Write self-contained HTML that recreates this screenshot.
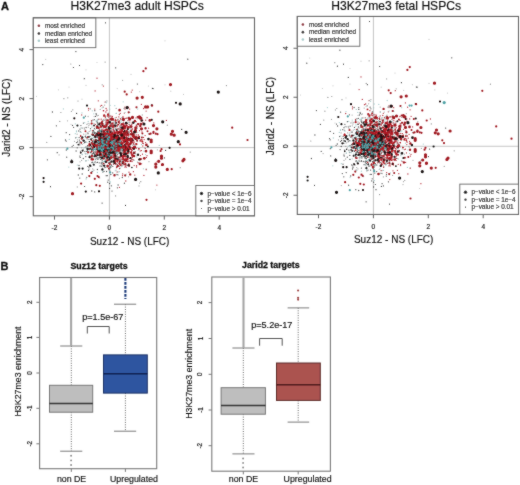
<!DOCTYPE html>
<html><head><meta charset="utf-8"><style>
html,body{margin:0;padding:0;background:#fff;}
svg{display:block;font-family:"Liberation Sans", sans-serif;}
</style></head><body>
<svg width="520" height="485" viewBox="0 0 520 485">
<defs><filter id="bl" x="0" y="0" width="520" height="485" filterUnits="userSpaceOnUse"><feConvolveMatrix order="3" kernelMatrix="1 2 1 2 24 2 1 2 1" edgeMode="duplicate"/></filter></defs>
<rect width="520" height="485" fill="#fff"/>
<g filter="url(#bl)">
<text x="1" y="10.3" font-size="11" text-anchor="start" font-weight="bold" fill="#111" stroke="#111" stroke-width="0.3">A</text>
<text x="0.6" y="270.2" font-size="11" text-anchor="start" font-weight="bold" fill="#111" stroke="#111" stroke-width="0.3">B</text>
<line x1="109.4" y1="17.8" x2="109.4" y2="215.8" stroke="#c4c4c4" stroke-width="1"/>
<line x1="33.3" y1="147.6" x2="254.5" y2="147.6" stroke="#c4c4c4" stroke-width="1"/>
</g><g filter="url(#bl)">
<path d="M114.5 131.7h0M144.2 139.6h0M127.1 144.6h0M118.7 157.2h0M122.4 126.5h0M145.4 148.3h0M114.7 131.3h0M143.3 143.5h0M102.8 147.3h0M132.3 156.1h0M111.0 155.2h0M105.8 144.9h0M120.7 132.2h0M108.0 142.8h0M120.5 153.0h0M110.4 122.7h0M119.4 144.8h0M95.1 90.9h0M112.4 150.5h0M106.3 136.5h0M123.8 143.0h0M118.1 145.1h0M99.8 137.7h0M119.4 187.3h0M141.5 124.0h0M116.5 129.1h0M123.2 128.4h0M118.4 136.6h0M122.9 151.2h0M107.4 158.7h0M124.2 145.0h0M81.7 114.9h0M98.3 100.8h0M132.2 129.0h0M108.3 141.4h0M94.8 109.1h0M139.6 158.8h0M131.5 126.9h0M107.7 165.3h0M117.8 137.5h0M101.2 119.2h0M133.4 171.7h0M140.8 139.8h0M128.6 161.2h0M108.8 137.3h0M129.3 166.4h0M125.6 132.0h0M116.5 135.8h0M123.5 152.2h0M120.5 142.5h0M134.2 138.4h0M110.5 153.6h0M106.9 110.2h0M131.3 142.9h0M103.2 149.8h0M108.1 138.9h0M113.8 124.4h0M134.8 175.1h0M113.2 143.7h0M119.1 146.6h0M106.5 147.7h0M122.8 131.1h0M117.3 149.6h0M116.0 151.2h0M124.5 130.2h0M116.9 144.9h0M136.3 148.2h0M129.1 164.9h0M113.1 139.0h0M130.2 125.7h0M136.2 143.8h0M126.6 138.9h0M119.2 120.6h0M132.4 157.5h0M115.2 149.3h0M98.0 144.1h0M116.7 125.3h0M130.2 161.0h0M126.6 145.1h0M113.5 152.6h0M121.1 127.3h0M111.5 149.8h0M122.7 117.5h0M115.5 122.9h0M110.4 139.0h0M131.9 143.1h0M106.6 144.3h0M127.3 142.9h0M124.2 135.9h0M121.7 138.9h0M104.6 153.3h0M129.0 172.2h0M138.5 135.0h0M123.9 118.6h0M114.9 147.5h0M126.5 136.9h0M112.7 142.1h0M113.5 129.1h0M124.3 113.1h0M111.8 151.2h0M120.9 131.0h0M133.0 140.6h0M95.5 156.6h0M110.7 161.3h0M114.0 148.9h0M132.5 159.7h0M126.1 137.3h0M120.2 157.2h0M110.2 134.7h0M134.0 152.0h0M115.4 133.9h0M130.3 149.3h0M125.5 166.2h0M142.6 143.2h0M118.8 140.4h0M128.7 143.0h0M120.2 139.1h0M106.0 133.2h0M129.6 158.3h0M125.9 135.5h0M120.6 147.0h0M111.6 149.5h0M110.7 132.4h0M121.1 138.9h0M111.5 137.5h0M117.4 138.3h0M119.3 137.2h0M140.2 150.9h0M116.8 135.1h0M141.9 140.0h0" stroke="#b5303c" stroke-width="1.3" stroke-linecap="round" fill="none"/>
<path d="M127.9 138.2h0M122.1 155.8h0M103.2 136.2h0M125.3 127.8h0M130.0 125.0h0M117.7 138.3h0M121.4 161.4h0M109.1 137.9h0M146.2 168.9h0M97.1 146.2h0M121.4 125.5h0M105.8 123.7h0M98.3 115.4h0M95.8 162.7h0M113.9 146.3h0M94.2 133.2h0M96.0 162.7h0M113.2 125.0h0M108.3 146.9h0M102.8 149.9h0M130.2 131.7h0M94.3 143.3h0M97.2 115.8h0M88.9 125.4h0M122.7 148.9h0M115.2 153.4h0M122.7 133.4h0M86.9 124.4h0M84.4 128.9h0M122.9 159.0h0M116.2 113.3h0M109.0 143.6h0M114.3 139.5h0M103.6 139.1h0M105.9 132.9h0M112.6 156.1h0M86.0 134.1h0M59.1 154.9h0M124.9 150.7h0M98.8 127.8h0M113.6 130.8h0M115.0 148.0h0M96.8 148.0h0M118.2 132.7h0M83.7 134.2h0M100.6 151.9h0M100.5 154.2h0M105.9 140.1h0M102.2 141.5h0M120.2 147.4h0M106.8 129.2h0M113.3 161.9h0M114.9 143.3h0M110.6 123.2h0M107.4 149.6h0M114.4 152.7h0M82.2 154.5h0M105.6 138.9h0M101.9 125.0h0M109.3 142.8h0M142.3 115.0h0M106.2 138.1h0M120.3 141.9h0M120.2 128.9h0M74.5 141.3h0M139.5 183.1h0M118.2 174.9h0M88.3 127.2h0M120.8 133.8h0M115.9 135.7h0M115.1 143.6h0M98.8 139.3h0M117.1 147.9h0M105.8 153.3h0M106.1 158.9h0M110.8 148.4h0M116.1 174.5h0M107.1 143.9h0M110.6 141.5h0M81.8 137.3h0M106.2 153.8h0M115.8 145.9h0M125.1 132.9h0M88.3 139.4h0M84.3 127.8h0M110.4 155.2h0M116.4 167.9h0M104.1 131.8h0M109.9 120.5h0M120.9 120.1h0M115.3 159.9h0M137.5 141.6h0M96.0 157.8h0M89.3 139.6h0" stroke="#a8a8a8" stroke-width="1.3" stroke-linecap="round" fill="none"/>
<path d="M113.2 144.5h0M114.8 105.7h0M118.6 119.1h0M111.2 141.3h0M113.2 151.8h0M126.4 145.4h0M96.0 133.2h0M110.1 136.5h0M116.3 146.6h0M80.3 132.2h0M110.6 166.7h0M105.0 159.0h0M116.8 155.4h0M77.7 125.9h0M101.0 147.6h0M110.2 105.3h0M117.5 141.9h0M102.0 143.6h0M106.8 146.5h0M100.6 150.4h0M108.2 153.4h0M109.9 133.9h0M76.8 137.4h0M124.4 148.6h0M100.7 156.5h0M101.5 127.9h0M114.3 142.2h0M121.2 153.7h0M113.4 128.1h0M91.9 127.6h0M103.5 145.2h0M98.1 142.3h0M114.7 121.9h0M81.4 142.8h0M81.3 138.4h0M118.3 145.9h0M109.1 146.3h0M109.7 109.2h0M110.4 182.0h0M113.6 146.4h0M129.9 124.1h0M116.5 152.4h0M81.1 132.4h0M112.1 144.9h0M107.9 134.7h0M92.3 110.8h0M75.3 123.9h0M110.0 164.1h0M93.4 131.6h0M130.0 136.4h0M98.5 146.8h0M118.3 150.1h0M100.4 143.8h0M81.1 136.7h0M101.3 140.1h0M136.2 124.5h0M85.5 135.6h0M100.3 137.0h0M123.4 164.0h0M93.6 162.9h0M131.9 159.0h0M111.1 153.0h0M137.3 128.5h0M107.0 149.3h0" stroke="#a9cfcf" stroke-width="1.3" stroke-linecap="round" fill="none"/>
<path d="M111.2 133.0h0M113.3 137.8h0M113.0 152.4h0M107.8 159.1h0M105.8 144.5h0M108.2 151.4h0M102.5 151.2h0M102.5 146.3h0M99.6 133.6h0M110.7 136.3h0M93.6 150.9h0M110.9 128.8h0M92.7 148.3h0M106.6 126.7h0M103.1 107.1h0M79.1 137.6h0M86.1 127.5h0M120.1 159.6h0M93.9 140.0h0M108.5 149.5h0M104.0 143.2h0M77.6 141.9h0M111.1 150.6h0M110.0 167.4h0M101.0 145.0h0M110.4 142.2h0M102.1 144.2h0M108.0 155.5h0M94.5 133.6h0M93.6 131.1h0M100.9 141.1h0M86.1 137.5h0M87.9 151.9h0M80.0 142.0h0M110.7 141.5h0M76.5 142.6h0M91.3 142.6h0M102.7 142.7h0M109.9 129.0h0M92.1 158.0h0M108.4 153.6h0M101.5 158.3h0M113.9 152.3h0M110.2 145.3h0M82.2 174.0h0M104.2 155.4h0M90.5 128.7h0M109.1 148.5h0M103.2 147.4h0M79.8 178.1h0M104.0 171.4h0M115.8 135.0h0M96.5 156.7h0M109.9 138.9h0M97.7 158.0h0M94.7 191.9h0M115.8 147.5h0M111.9 132.8h0M100.8 154.7h0M88.9 167.2h0M94.6 154.4h0M113.1 136.8h0M98.7 149.0h0M101.4 163.3h0M88.3 137.2h0M93.1 131.3h0M115.1 142.7h0M107.2 152.8h0M98.7 147.6h0M75.7 137.8h0M88.0 133.7h0M109.6 183.5h0" stroke="#555555" stroke-width="1.3" stroke-linecap="round" fill="none"/>
<path d="M113.9 130.4h0M121.0 151.3h0M112.1 122.4h0M109.8 117.2h0M97.1 137.3h0M125.3 164.8h0M100.6 146.2h0M118.3 143.6h0M93.9 170.2h0M126.4 151.4h0M120.9 159.4h0M116.0 170.2h0M95.9 151.9h0M120.6 140.6h0M110.2 162.5h0M102.7 141.1h0M120.8 150.5h0M94.1 116.6h0M99.7 151.2h0M122.7 150.3h0M116.4 132.4h0M107.5 153.8h0M109.9 115.6h0M81.7 147.8h0M113.0 147.1h0M105.5 122.8h0M110.2 146.1h0M122.1 146.1h0M81.1 127.8h0M101.3 129.7h0M91.5 140.0h0M105.8 142.1h0M106.2 142.2h0M99.6 177.9h0M128.2 133.8h0M113.9 144.6h0M104.6 105.1h0M119.2 136.2h0M130.5 145.8h0M114.4 137.7h0M116.5 135.8h0M95.0 129.4h0M102.5 123.2h0M119.0 149.0h0M117.6 131.4h0M123.3 145.6h0M117.8 157.3h0M110.6 126.8h0M137.0 155.3h0M88.5 133.2h0M120.8 148.6h0M104.3 143.2h0M109.8 133.0h0M114.9 133.7h0M112.7 145.1h0M105.2 115.9h0M113.6 149.6h0M105.9 157.2h0M120.9 161.0h0M128.6 176.8h0M123.8 161.0h0M111.3 151.0h0M95.5 140.0h0M123.7 147.9h0M108.2 135.5h0M116.3 131.6h0M88.1 123.5h0M116.2 108.4h0M92.7 168.9h0M99.0 129.8h0M114.9 135.3h0M107.0 134.1h0M111.6 140.3h0M121.0 145.4h0M124.8 126.4h0" stroke="#a8a8a8" stroke-width="1.3" stroke-linecap="round" fill="none"/>
<path d="M106.6 135.5h0M100.5 143.0h0M112.0 125.2h0M87.5 150.7h0M110.8 124.7h0M97.4 132.9h0M103.4 134.7h0M92.0 162.6h0M86.0 147.0h0M102.3 164.8h0M97.4 169.5h0M102.9 172.1h0M91.1 152.0h0M100.5 159.2h0M66.2 132.7h0M115.2 164.1h0M71.6 159.9h0M100.3 145.4h0M104.7 145.7h0M108.3 113.3h0M92.9 153.3h0M119.2 152.7h0M98.3 142.7h0M117.2 174.7h0M91.7 121.8h0M91.6 157.0h0M116.8 143.0h0M108.6 163.0h0M106.1 152.9h0M79.4 140.1h0M99.0 147.9h0M110.8 174.5h0M89.6 165.2h0M103.1 142.9h0M96.3 114.8h0M93.3 153.2h0M89.9 136.4h0M111.6 126.2h0M96.1 113.7h0M85.8 153.8h0M99.3 157.4h0M85.4 116.2h0M113.0 136.1h0M103.8 131.4h0M109.9 168.6h0M101.2 133.5h0M110.4 151.1h0M80.6 142.2h0M104.5 146.1h0M93.6 149.6h0M99.6 130.4h0M109.6 162.6h0M105.8 140.8h0M113.5 161.3h0M92.7 155.5h0M110.2 155.2h0M110.7 131.1h0M99.1 151.2h0M80.0 129.1h0M109.0 150.0h0M105.4 132.0h0M114.0 153.5h0M92.1 154.2h0M104.7 135.9h0M102.0 130.5h0M98.7 147.6h0M93.1 141.2h0M98.4 138.9h0M52.4 112.0h0M92.6 141.4h0M102.7 162.9h0M109.0 143.8h0M107.4 145.4h0" stroke="#555555" stroke-width="1.3" stroke-linecap="round" fill="none"/>
<path d="M122.6 151.0h0M104.4 139.2h0M115.7 148.6h0M95.5 149.8h0M97.3 120.0h0M88.2 121.5h0M122.1 117.7h0M148.4 133.7h0M108.3 143.0h0M136.5 132.7h0M115.4 143.4h0M93.8 148.8h0M121.1 121.0h0M110.6 137.7h0M104.7 146.1h0M93.2 138.0h0M126.5 131.8h0M96.5 121.5h0M115.1 157.7h0M88.2 160.1h0M113.3 151.7h0M105.6 135.6h0M106.3 148.9h0M117.9 135.4h0M117.0 148.7h0M127.8 123.4h0M103.4 135.4h0M109.8 135.4h0M124.8 132.6h0M136.3 138.8h0M134.6 136.9h0M102.1 124.9h0M145.5 154.6h0M123.6 151.5h0M120.9 144.7h0M125.8 153.2h0M134.4 132.1h0M82.5 154.5h0M126.2 155.7h0M118.1 162.2h0M92.4 135.0h0M99.0 139.7h0M119.5 171.7h0M116.3 146.6h0M86.3 148.5h0M103.6 161.7h0M109.1 155.2h0M95.9 120.9h0M84.7 122.7h0M98.3 146.9h0M112.9 150.7h0M113.0 157.0h0M115.0 118.0h0M103.9 124.2h0M121.8 166.6h0M131.1 138.7h0M111.3 149.7h0M122.3 147.1h0M82.0 112.9h0M117.2 141.6h0M112.4 143.1h0M120.6 147.2h0M117.2 145.2h0M100.9 156.3h0M134.1 135.5h0M120.4 168.2h0M126.8 149.1h0M121.1 132.0h0M96.0 159.7h0M114.4 126.8h0M95.8 135.9h0M111.2 120.7h0M89.6 155.4h0M93.5 137.5h0M104.9 140.5h0M97.6 119.3h0M105.2 167.3h0M137.7 109.0h0M130.6 129.2h0M108.8 130.5h0M121.4 117.7h0M127.8 135.0h0M120.7 122.5h0M105.6 148.7h0M85.2 153.4h0" stroke="#a9cfcf" stroke-width="1.3" stroke-linecap="round" fill="none"/>
<path d="M121.3 146.6h0M108.7 163.3h0M88.5 110.1h0M113.6 122.9h0M108.7 122.4h0M139.7 118.7h0M107.6 130.1h0M120.8 129.2h0M125.8 118.4h0M108.4 149.9h0M128.0 120.7h0M128.2 146.8h0M116.2 142.5h0M120.2 146.7h0M100.2 148.2h0M113.6 156.3h0M128.9 147.0h0M142.0 132.0h0M139.5 130.7h0M127.6 131.5h0M130.5 118.2h0M127.4 123.4h0M105.2 119.1h0M116.4 147.2h0M108.4 132.4h0M112.1 157.5h0M105.5 135.3h0M126.2 167.2h0M118.3 148.1h0M115.0 137.0h0M113.5 131.2h0M117.0 134.3h0M95.4 152.1h0M111.0 153.0h0M128.9 131.8h0M131.5 159.2h0M107.5 157.6h0M101.6 122.7h0M109.9 146.8h0M122.6 123.6h0M88.5 108.3h0M111.3 133.6h0M111.7 134.0h0M111.7 153.7h0M103.0 141.7h0M119.3 114.6h0M124.4 160.2h0M124.9 135.9h0M119.6 160.0h0M120.1 143.8h0M142.8 146.0h0M119.5 147.2h0M126.9 137.2h0M116.1 152.5h0M113.2 120.5h0M101.7 105.4h0M124.0 126.0h0M114.9 143.1h0M119.5 168.3h0M146.1 111.1h0M127.7 139.5h0M80.7 135.4h0M145.6 142.6h0M119.8 126.9h0M98.8 135.3h0M105.4 130.5h0M121.5 143.5h0M117.7 164.8h0M115.2 140.9h0M119.3 153.2h0M135.0 135.1h0M104.1 157.1h0M143.5 137.4h0M112.0 146.3h0M120.2 113.4h0M105.7 129.6h0M125.1 128.9h0M111.1 126.2h0M117.7 147.2h0M106.2 147.6h0M122.3 130.5h0M121.0 119.2h0M153.8 122.9h0M125.8 181.0h0M127.2 123.6h0M125.7 144.8h0M119.1 163.4h0M133.8 142.0h0M106.5 162.4h0M114.7 154.5h0M113.2 137.5h0M104.7 140.9h0M119.1 138.0h0M109.3 129.5h0M112.5 143.8h0M123.9 156.2h0M119.6 164.4h0M166.4 120.4h0M133.5 137.1h0M107.7 136.0h0M123.6 123.4h0M120.7 128.0h0M107.8 116.3h0M131.3 92.1h0M134.3 131.2h0M109.9 146.5h0M117.1 126.7h0M102.2 141.7h0M115.9 129.7h0M129.6 118.1h0M117.6 139.1h0M118.0 141.3h0M110.6 146.5h0M123.2 159.6h0M109.2 146.5h0M103.8 144.9h0M132.2 90.1h0M117.4 154.7h0M111.3 158.6h0M126.6 130.9h0M123.8 157.7h0M134.2 165.6h0M125.6 150.8h0M128.8 163.7h0M145.1 135.6h0M115.8 136.4h0" stroke="#b5303c" stroke-width="1.3" stroke-linecap="round" fill="none"/>
<path d="M89.2 131.4h0M130.0 128.3h0M111.2 141.8h0M113.6 150.7h0M83.5 149.1h0M77.5 139.8h0M82.2 144.3h0M100.7 139.4h0M132.9 144.0h0M114.6 143.3h0M125.3 142.9h0M107.4 156.0h0M111.0 137.5h0M85.1 129.8h0M118.7 135.6h0M104.3 166.6h0M138.6 148.5h0M115.1 162.2h0M87.2 148.1h0M100.1 137.5h0M124.4 139.0h0M119.4 178.3h0M105.1 155.6h0M111.4 142.8h0M109.5 151.9h0M126.0 164.6h0M116.0 163.8h0M103.3 119.5h0M96.6 158.5h0M114.1 123.6h0M117.5 142.2h0M103.6 116.3h0M111.8 127.5h0M95.5 150.4h0M102.8 122.1h0M120.5 128.9h0M123.9 108.6h0M108.8 113.3h0M128.9 144.5h0M136.6 141.2h0M107.0 167.4h0M116.0 128.3h0M125.0 124.3h0M105.8 137.5h0M124.3 139.8h0M80.4 151.1h0M117.7 131.9h0M129.5 112.3h0M121.5 148.5h0M112.2 148.6h0M79.7 156.4h0M99.4 139.3h0M98.7 143.1h0M117.4 147.8h0M106.8 155.1h0M121.6 133.7h0M117.3 154.3h0M111.6 146.5h0M107.3 162.2h0M88.1 116.5h0M106.4 131.6h0M117.9 152.4h0M102.7 131.9h0M109.6 152.2h0M94.5 135.1h0M144.7 148.0h0M104.6 150.2h0M102.3 125.3h0M94.7 139.8h0M106.1 160.0h0M106.2 137.8h0M127.0 155.7h0M124.3 108.2h0M130.0 153.3h0M157.4 149.8h0M97.6 132.3h0M111.4 165.6h0M127.4 145.0h0M107.4 132.2h0M105.6 126.1h0M84.0 143.3h0M119.5 166.5h0M103.0 139.0h0M99.7 138.7h0M106.5 144.5h0M71.4 111.4h0M104.8 149.6h0" stroke="#a8a8a8" stroke-width="1.3" stroke-linecap="round" fill="none"/>
<path d="M111.0 129.0h0M108.6 151.2h0M94.9 155.7h0M92.4 143.9h0M105.8 155.2h0M113.6 161.9h0M76.5 131.8h0M108.2 150.7h0M100.7 153.0h0M100.2 126.4h0M112.4 150.1h0M106.9 130.7h0M100.7 139.1h0M134.4 144.6h0M107.2 136.2h0M116.2 129.5h0M95.8 150.2h0M103.1 137.9h0M116.5 134.9h0M120.2 144.7h0M76.5 131.0h0M119.3 160.6h0M122.3 141.6h0M119.8 145.1h0M119.2 126.1h0M138.2 150.4h0M99.2 128.9h0M125.3 154.7h0M117.2 139.9h0M115.7 134.7h0M81.9 128.1h0M112.7 137.6h0M102.3 161.7h0M113.3 158.2h0M117.1 166.0h0M137.8 132.3h0M111.6 143.2h0M137.4 162.0h0M102.1 107.9h0M120.2 127.4h0M125.9 147.8h0M106.6 102.7h0M103.6 134.4h0M104.1 132.8h0M105.0 151.6h0M83.3 137.5h0M143.4 168.8h0M128.6 131.7h0M115.2 170.8h0M97.4 172.5h0M116.1 128.2h0M129.8 153.4h0M116.5 143.9h0M110.6 136.5h0M117.8 152.7h0M95.3 133.5h0M104.6 155.4h0M100.9 145.7h0M109.8 133.5h0M98.6 119.7h0M63.4 108.9h0M120.8 130.0h0M117.4 141.8h0M127.8 142.8h0M113.6 136.5h0M127.4 139.9h0M101.4 166.3h0M89.8 149.8h0M104.6 125.1h0M108.1 153.3h0M92.0 126.0h0M82.2 137.9h0M89.9 143.6h0" stroke="#a9cfcf" stroke-width="1.3" stroke-linecap="round" fill="none"/>
<path d="M80.7 152.0h0M95.3 154.2h0M112.7 131.8h0M94.9 151.9h0M84.1 140.9h0M118.2 149.4h0M106.9 140.6h0M108.6 141.9h0M116.7 145.7h0M115.3 152.5h0M98.9 158.0h0M92.3 134.5h0M101.3 136.4h0M79.8 144.8h0M84.9 151.6h0M109.3 159.2h0M94.3 154.0h0M108.1 138.4h0M94.4 128.3h0M95.3 142.4h0M101.9 162.3h0M98.3 150.2h0M90.1 108.8h0M111.1 131.1h0M104.0 156.5h0M84.6 142.4h0M102.0 143.0h0M122.3 177.5h0M117.9 153.9h0M69.6 134.6h0M109.3 145.3h0M97.6 144.7h0M107.5 141.6h0M116.5 147.5h0M97.9 159.4h0M92.3 162.2h0M103.4 150.5h0M97.2 152.4h0M106.6 171.5h0M102.2 131.8h0M102.3 147.3h0M97.4 133.5h0M92.5 132.8h0M94.8 110.7h0M95.9 136.0h0M104.8 149.9h0M110.7 128.2h0M104.9 127.3h0M93.4 130.4h0M107.9 152.8h0M87.8 166.4h0M89.0 148.4h0M98.6 133.0h0M76.1 151.0h0M95.2 133.0h0M80.2 157.4h0M110.8 130.8h0M77.2 147.8h0M107.4 137.6h0M114.6 152.4h0M66.3 150.0h0M105.4 127.7h0M91.6 146.4h0M107.7 182.2h0M97.8 132.1h0M110.6 132.0h0M114.5 155.8h0M113.1 143.7h0M91.4 142.8h0M89.6 145.8h0M110.0 171.1h0M117.0 164.1h0M110.9 167.0h0M93.4 146.0h0M86.7 177.3h0M104.5 165.7h0M101.2 123.2h0M100.2 137.0h0M93.5 153.2h0M109.1 169.7h0M95.8 135.8h0M85.3 136.5h0M88.1 151.9h0M85.8 142.0h0" stroke="#555555" stroke-width="1.3" stroke-linecap="round" fill="none"/>
<path d="M115.6 119.3h0M131.6 149.9h0M136.2 131.4h0M127.0 165.4h0M132.5 138.5h0M107.8 156.9h0M112.8 118.9h0M124.3 144.4h0M105.6 137.1h0M123.0 160.6h0M141.6 163.8h0M127.1 148.6h0M105.1 144.2h0M132.1 138.1h0M138.7 159.6h0M114.7 135.0h0M109.5 126.5h0M115.5 154.3h0M124.1 123.9h0M116.0 164.0h0M101.9 146.8h0M117.4 162.0h0M135.3 139.4h0M136.6 165.7h0M107.5 154.0h0M118.1 145.1h0M123.7 155.6h0M111.0 116.1h0M120.1 151.7h0M125.4 137.6h0M123.5 131.5h0M120.3 125.2h0M109.3 129.0h0M117.9 128.7h0M105.9 112.0h0M122.4 159.3h0M129.5 118.4h0M120.3 146.9h0M121.9 142.5h0M127.8 148.5h0M108.4 141.2h0M117.1 143.8h0M119.7 144.6h0M104.0 153.8h0M104.4 141.2h0M121.6 131.6h0M121.6 137.9h0M131.8 124.5h0M132.4 142.4h0M120.5 133.9h0M114.5 133.7h0M117.8 119.3h0M118.9 141.5h0M146.4 157.4h0M105.7 154.3h0M132.0 135.9h0M110.4 143.4h0M123.5 126.4h0M122.7 137.1h0M115.7 133.9h0M138.1 162.7h0M112.5 147.3h0M141.4 104.3h0M112.9 155.2h0M139.0 148.8h0M105.1 102.1h0M128.3 145.0h0M120.0 134.8h0M132.0 129.2h0M126.9 126.0h0M123.0 142.1h0M123.6 122.3h0M121.2 146.9h0M117.2 125.7h0M112.5 133.1h0M119.6 168.7h0M115.6 154.2h0M103.0 143.5h0M116.6 135.7h0M115.9 140.3h0M129.7 109.1h0M125.8 139.4h0M115.6 128.2h0M132.0 147.5h0M109.8 116.1h0M100.0 148.2h0M107.0 153.0h0M128.1 152.2h0M109.7 145.4h0M112.9 139.1h0M119.7 151.5h0M136.3 132.3h0M135.4 127.9h0M125.8 155.9h0M110.4 122.3h0M113.9 127.5h0M108.4 142.3h0M117.1 172.0h0M106.8 153.7h0M126.5 143.8h0M103.1 127.9h0M114.8 159.9h0M121.2 159.0h0M117.6 145.3h0M136.1 137.8h0M123.4 147.9h0M122.2 130.0h0M132.5 141.0h0M137.0 126.5h0M114.3 125.2h0M133.7 140.1h0M111.1 133.8h0M111.8 152.9h0M128.1 157.6h0M114.9 136.6h0M115.5 133.0h0" stroke="#b5303c" stroke-width="1.3" stroke-linecap="round" fill="none"/>
<path d="M100.9 134.3h0M103.3 141.4h0M88.1 137.1h0M92.9 171.6h0M118.1 152.1h0M99.8 141.2h0M97.2 144.9h0M134.1 151.3h0M119.3 142.7h0M122.3 136.4h0M128.5 122.3h0M129.9 112.6h0M104.6 137.7h0M102.6 149.7h0M106.4 136.1h0M136.8 137.0h0M94.0 137.3h0M122.0 127.7h0M115.7 159.4h0M119.3 140.8h0M137.1 138.5h0M105.8 161.9h0M97.9 131.1h0M93.7 142.5h0M96.2 136.1h0M128.8 153.5h0M109.2 141.2h0M91.9 135.1h0M90.5 130.7h0M95.6 155.4h0M113.7 120.9h0M77.3 165.1h0M112.8 142.5h0M127.2 148.4h0M99.9 143.7h0M105.8 143.1h0M90.7 149.0h0M95.5 145.9h0M91.9 135.5h0M102.0 140.2h0M119.5 134.8h0M114.5 129.1h0M111.6 157.8h0M104.6 147.9h0M101.3 144.3h0M100.0 124.1h0M114.7 145.9h0M93.8 113.8h0M99.1 147.9h0M118.1 151.8h0M123.2 101.8h0M91.8 137.8h0M97.8 140.0h0M132.7 123.3h0M99.8 134.7h0M126.3 174.2h0M143.9 151.2h0M84.5 147.6h0M113.0 141.0h0M108.3 146.2h0M113.4 158.0h0M126.6 122.8h0M113.7 130.2h0M111.2 161.2h0M116.4 113.4h0M103.5 130.9h0M142.1 136.1h0M103.5 141.5h0M159.3 145.4h0M110.0 157.4h0M98.9 157.9h0M117.7 153.1h0M103.9 133.4h0M118.8 128.1h0" stroke="#a9cfcf" stroke-width="1.3" stroke-linecap="round" fill="none"/>
<path d="M136.6 167.0h0M123.3 164.7h0M142.9 122.6h0M142.8 120.3h0M127.8 149.5h0M116.4 138.2h0M104.4 135.4h0M121.3 134.9h0M112.9 143.5h0M91.5 120.7h0M112.5 148.0h0M129.6 149.6h0M108.3 146.1h0M111.2 123.9h0M110.8 150.5h0M119.8 137.4h0M87.7 152.0h0M130.8 137.5h0M131.1 130.3h0M137.1 124.8h0M130.7 131.4h0M113.6 157.6h0M156.9 185.1h0M95.8 144.7h0M117.2 157.2h0M113.0 133.2h0M122.6 131.2h0M135.0 136.6h0M108.9 130.7h0M115.6 152.0h0M122.7 153.6h0M104.1 133.7h0M109.2 137.0h0M126.3 133.6h0M124.9 107.2h0M133.5 159.9h0M116.6 137.1h0M130.1 143.6h0M113.3 160.6h0M142.5 154.2h0M115.1 152.8h0M108.8 139.7h0M116.2 132.2h0M140.4 155.6h0M113.6 130.7h0M127.1 143.5h0M116.0 139.8h0M119.6 123.6h0M141.5 150.6h0M125.0 109.0h0M117.7 136.3h0M114.9 139.5h0M125.1 137.2h0M127.8 135.4h0M130.6 157.8h0M113.9 119.9h0M130.4 148.2h0M108.2 160.3h0M121.0 145.1h0M112.3 116.5h0M126.8 149.9h0M117.0 144.2h0M143.6 108.5h0M116.7 132.8h0M106.7 136.4h0M102.7 132.0h0M117.1 139.5h0M129.3 148.8h0M127.4 134.6h0M110.8 150.6h0M122.5 175.7h0M121.0 140.2h0M104.8 126.0h0M111.3 140.3h0M134.1 142.1h0M125.0 138.7h0M116.2 117.3h0M118.3 143.9h0M125.3 144.6h0M117.6 150.7h0M148.6 128.2h0M106.1 108.5h0M129.9 135.1h0M120.7 152.1h0M99.7 142.8h0M110.8 136.4h0M136.3 125.4h0M114.2 150.4h0M103.4 86.1h0M105.0 142.1h0M133.8 144.6h0M135.4 151.9h0M157.0 161.8h0M126.5 135.8h0M94.0 145.9h0M129.1 124.3h0M102.1 129.3h0M106.8 143.5h0M133.7 143.5h0M131.6 149.7h0M135.0 147.9h0M129.8 122.1h0M125.3 140.0h0M136.8 134.9h0M114.6 151.8h0M112.9 127.8h0M119.6 134.4h0M133.3 133.8h0M120.9 132.7h0M124.5 131.5h0M145.7 120.2h0M130.6 138.3h0M119.5 160.6h0M113.5 164.2h0M125.5 163.9h0M120.5 145.9h0M104.0 126.7h0M122.6 137.3h0M112.2 134.1h0M109.9 132.7h0M132.5 140.3h0" stroke="#b5303c" stroke-width="1.3" stroke-linecap="round" fill="none"/>
<path d="M102.0 147.7h0M93.4 148.9h0M100.1 146.5h0M108.5 152.6h0M87.4 146.5h0M109.1 132.4h0M112.1 120.1h0M104.7 166.7h0M89.2 157.4h0M110.2 147.7h0M120.4 143.0h0M129.8 127.3h0M77.3 187.0h0M120.4 151.4h0M91.9 153.9h0M116.6 156.2h0M106.0 132.1h0M91.4 134.8h0M139.0 185.9h0M99.6 130.3h0M122.6 80.3h0M97.0 122.7h0M113.1 159.5h0M97.2 151.2h0M104.1 142.6h0M119.8 157.8h0M117.1 150.7h0M137.7 118.7h0M120.0 160.9h0M107.0 115.9h0M99.4 157.1h0M115.5 128.3h0M107.1 135.1h0M100.2 109.4h0M80.0 161.8h0M79.6 143.3h0M125.2 139.6h0M128.5 136.2h0M110.6 158.9h0M105.2 125.2h0M87.2 132.6h0M115.9 124.5h0M93.9 131.6h0M119.5 146.8h0M104.2 120.4h0M106.0 120.4h0M80.5 131.5h0M106.9 101.0h0M106.0 138.4h0M117.0 141.7h0M109.5 150.1h0M124.7 108.1h0M105.4 150.2h0M120.8 159.6h0M115.4 160.4h0M112.4 145.0h0M114.1 150.7h0M131.8 147.7h0M104.7 163.2h0M111.1 150.5h0M116.5 153.6h0M89.8 123.9h0M79.9 142.2h0M107.1 127.8h0M112.0 140.7h0M67.5 120.8h0M108.6 155.2h0M82.6 128.1h0M110.3 146.7h0M119.7 145.9h0M101.3 164.1h0M105.5 101.8h0M108.1 132.9h0M82.7 139.9h0M116.4 145.9h0M106.6 148.3h0M118.1 171.9h0M102.3 131.3h0M122.2 143.6h0M110.2 139.4h0M103.3 146.7h0M86.5 177.8h0M107.2 152.8h0M110.4 147.5h0M99.4 148.7h0M102.5 137.1h0M117.4 156.4h0" stroke="#a8a8a8" stroke-width="1.3" stroke-linecap="round" fill="none"/>
<path d="M97.5 162.3h0M72.1 146.6h0M110.7 139.9h0M95.5 116.4h0M104.7 145.3h0M107.3 141.8h0M65.5 140.0h0M120.2 155.8h0M111.4 144.5h0M97.3 162.4h0M99.0 140.9h0M99.7 130.6h0M56.4 125.8h0M109.6 188.3h0M118.1 151.1h0M88.5 170.4h0M87.0 138.8h0M99.8 123.0h0M100.1 166.0h0M100.6 149.8h0M103.1 142.3h0M106.0 133.5h0M109.8 146.6h0M111.4 132.1h0M47.4 159.8h0M80.9 125.6h0M85.8 156.7h0M105.6 152.9h0M117.4 187.8h0M96.9 133.4h0M86.0 160.8h0M92.9 120.1h0M78.3 175.0h0M109.2 145.1h0M105.3 126.1h0M72.5 125.4h0M97.6 124.0h0M100.0 143.6h0M98.6 131.2h0M97.8 131.3h0M109.7 158.9h0M103.0 138.6h0M113.4 146.4h0M102.7 155.2h0M125.7 163.3h0M87.5 145.7h0M98.0 133.8h0M102.7 134.7h0M105.4 134.1h0M108.3 141.7h0M102.6 157.1h0M111.4 165.0h0M108.0 156.3h0M83.4 123.1h0M101.9 143.0h0M113.3 150.4h0M82.5 138.0h0M100.9 127.7h0M106.2 175.7h0M105.0 167.6h0M105.3 147.6h0M103.0 136.8h0M108.3 130.9h0M97.7 128.0h0M111.0 153.1h0M118.1 185.0h0M89.5 137.0h0M106.4 136.5h0M107.7 143.0h0M123.4 153.2h0M91.8 191.0h0M112.7 172.9h0M106.0 159.1h0M86.5 151.3h0M108.4 128.6h0M102.9 120.9h0M99.8 162.8h0M93.1 132.8h0" stroke="#555555" stroke-width="1.3" stroke-linecap="round" fill="none"/>
<path d="M125.6 161.7h0M129.1 132.6h0M128.0 153.0h0M116.9 157.0h0M123.4 155.4h0M111.1 153.8h0M111.1 142.6h0M115.7 152.7h0M123.1 135.9h0M131.3 133.7h0M119.9 158.9h0M112.2 133.8h0M122.7 173.9h0M123.0 116.6h0M125.5 141.0h0M116.3 131.3h0M92.4 130.7h0M135.5 153.3h0M132.1 150.4h0M98.9 119.2h0M123.5 134.1h0M135.2 146.6h0M125.4 151.0h0M132.1 123.0h0M113.4 138.1h0M114.4 130.8h0M131.9 154.7h0M115.4 144.8h0M114.4 142.7h0M95.3 124.4h0M103.8 151.6h0M104.0 135.2h0M119.1 147.0h0M143.9 175.4h0M125.4 143.4h0M130.8 152.3h0M100.9 137.9h0M112.2 145.8h0M116.9 142.6h0M116.6 143.8h0M107.3 129.4h0M103.4 126.7h0M136.1 121.7h0M99.7 130.0h0M118.8 116.9h0M109.2 126.4h0M129.1 152.0h0M103.9 126.3h0M116.0 161.4h0M126.3 145.1h0M125.9 150.2h0M147.0 155.7h0M105.7 130.0h0M102.0 152.4h0M115.4 163.8h0M114.0 132.9h0M99.6 130.3h0M112.9 140.1h0M110.2 152.1h0M132.1 161.6h0M118.3 157.3h0M146.2 169.7h0M117.0 156.8h0M106.8 156.9h0M96.5 133.3h0M111.0 143.9h0M103.7 145.5h0M101.4 139.8h0M115.5 119.8h0M113.5 153.9h0M97.0 78.2h0M126.0 152.7h0M112.6 153.8h0M125.5 147.5h0M108.1 134.8h0M108.6 136.8h0M125.5 145.7h0M125.6 156.6h0M107.1 136.7h0M124.2 141.6h0M125.3 141.0h0M109.6 158.8h0M136.0 117.9h0M112.0 130.0h0M108.7 122.1h0M140.1 140.2h0M100.4 147.0h0M120.5 147.3h0M111.9 137.0h0M118.3 144.6h0M109.3 148.6h0M120.0 134.8h0M111.5 133.8h0M124.9 167.1h0M113.4 129.4h0M124.2 154.7h0M114.6 156.2h0M128.4 147.2h0M120.6 135.5h0M109.3 119.2h0M118.8 122.2h0M112.4 141.2h0M108.4 117.0h0M127.8 151.4h0M110.3 138.8h0M141.8 139.6h0M97.6 148.0h0M126.5 134.6h0M112.1 117.2h0M147.1 117.7h0M122.8 155.9h0M120.4 118.7h0M122.7 131.9h0M126.6 118.1h0M100.5 106.1h0M131.7 151.6h0M137.8 123.7h0M118.2 160.1h0M120.8 150.1h0M121.4 141.7h0M121.1 164.6h0M106.5 144.7h0M106.3 120.7h0M103.6 131.4h0" stroke="#b5303c" stroke-width="1.3" stroke-linecap="round" fill="none"/>
<path d="M78.8 131.0h0M104.0 138.5h0M116.7 130.3h0M102.5 160.1h0M111.3 131.3h0M97.7 122.6h0M103.6 141.3h0M111.6 126.2h0M90.9 166.2h0M107.9 160.3h0M111.8 143.1h0M94.3 119.7h0M99.8 136.1h0M107.6 139.2h0M97.1 121.1h0M95.2 159.1h0M90.4 152.7h0M83.3 158.5h0M101.6 142.9h0M111.3 143.9h0M110.4 162.3h0M114.0 148.9h0M105.7 161.9h0M66.7 157.2h0M102.3 141.4h0M112.8 166.3h0M91.5 158.6h0M91.3 143.8h0M107.3 175.7h0M96.5 128.4h0M110.7 152.8h0M118.3 132.9h0M106.8 119.4h0M79.0 165.5h0M111.4 138.6h0M102.1 156.7h0M99.3 146.9h0M107.9 160.7h0M112.0 152.1h0M110.8 128.3h0M94.7 132.5h0M73.3 145.3h0M93.7 152.3h0M103.7 138.9h0M118.7 157.3h0M92.1 138.6h0M112.0 141.9h0M110.3 143.8h0M101.8 159.8h0M99.9 132.9h0M102.0 131.2h0M106.7 147.5h0M109.8 165.8h0M99.6 155.8h0M106.7 140.0h0M92.1 171.4h0M92.3 142.0h0M97.2 134.9h0M103.7 158.7h0M88.9 151.8h0M101.8 166.2h0M108.0 137.2h0M112.0 144.5h0M112.0 145.6h0M108.2 180.1h0M106.4 126.1h0M66.2 141.1h0M105.3 156.2h0M101.4 132.3h0M105.9 125.6h0M121.9 165.7h0M122.2 152.1h0M92.5 159.7h0M109.2 131.8h0M106.6 143.9h0M98.1 147.3h0M111.0 155.8h0M73.6 127.3h0M93.1 164.2h0M50.9 136.4h0" stroke="#555555" stroke-width="1.3" stroke-linecap="round" fill="none"/>
<path d="M94.0 123.4h0M119.7 145.7h0M110.1 121.5h0M114.2 145.0h0M123.1 122.5h0M95.3 161.5h0M95.0 161.9h0M107.5 148.9h0M112.7 148.5h0M116.8 142.6h0M112.1 142.6h0M125.8 133.8h0M130.0 141.1h0M112.5 135.7h0M107.4 143.5h0M103.2 158.7h0M124.0 141.8h0M102.5 168.2h0M92.6 148.1h0M105.5 139.1h0M113.4 138.8h0M118.2 139.2h0M113.2 149.1h0M100.3 143.7h0M102.1 158.3h0M111.4 154.3h0M123.8 124.9h0M91.0 140.1h0M128.0 139.0h0M119.6 144.6h0M116.2 153.3h0M123.7 132.9h0M115.4 157.2h0M109.8 151.5h0M100.9 139.5h0M117.4 157.0h0M88.3 146.9h0M115.5 156.3h0M105.8 129.3h0M126.3 141.0h0M149.0 161.7h0M110.9 145.8h0M81.6 160.4h0M115.3 151.1h0M113.3 136.9h0M120.2 133.0h0M81.3 142.9h0M131.7 141.3h0M120.7 128.4h0M94.2 162.5h0M111.1 138.0h0M104.2 132.3h0M132.8 145.3h0M98.1 152.9h0M77.1 134.2h0M120.7 126.1h0M106.0 149.1h0M112.5 138.6h0M94.5 143.6h0M117.1 137.9h0M80.0 155.6h0M117.5 120.5h0M107.5 155.7h0M129.4 132.1h0M125.3 131.3h0M113.7 161.9h0M100.8 134.4h0M104.5 154.1h0M124.8 162.0h0M101.6 147.4h0M122.8 139.7h0M100.3 135.8h0M102.2 137.6h0M99.0 162.8h0M112.2 149.0h0M115.0 144.6h0M115.6 150.4h0M97.6 147.9h0M114.9 149.4h0M105.9 153.3h0M107.0 119.5h0M105.2 146.6h0M123.0 137.9h0M131.6 117.9h0M105.9 125.5h0M96.6 126.2h0" stroke="#a8a8a8" stroke-width="1.3" stroke-linecap="round" fill="none"/>
<path d="M124.5 142.7h0M86.9 142.3h0M90.5 145.4h0M141.5 144.5h0M109.5 138.0h0M107.8 138.5h0M102.4 147.9h0M117.4 141.7h0M120.2 129.5h0M116.2 124.3h0M129.9 133.2h0M120.9 162.0h0M127.8 132.3h0M98.3 140.8h0M108.2 124.6h0M102.6 171.3h0M112.0 160.6h0M105.2 152.2h0M99.4 147.5h0M112.1 126.8h0M132.9 117.0h0M117.8 131.5h0M88.8 150.0h0M112.6 144.2h0M108.7 137.8h0M114.3 122.6h0M108.5 129.7h0M85.6 160.8h0M69.3 139.4h0M125.1 112.4h0M122.1 160.6h0M109.7 150.9h0M108.7 140.3h0M136.9 157.0h0M97.5 142.2h0M135.4 145.6h0M114.3 151.0h0M87.4 154.0h0M122.8 128.8h0M110.0 168.6h0M129.2 130.3h0M128.1 118.5h0M134.5 160.2h0M106.9 157.4h0M117.7 166.2h0M106.0 133.8h0M117.0 136.2h0M129.3 116.8h0M113.8 145.3h0M127.2 132.1h0M105.0 131.9h0M124.0 134.0h0M106.0 118.7h0M68.8 167.1h0M116.5 129.2h0M116.9 133.4h0M107.1 135.6h0M110.3 143.9h0M110.7 139.9h0M114.7 155.2h0M86.1 179.0h0M128.9 139.0h0M114.8 162.7h0M108.6 155.3h0M135.8 153.9h0M120.1 138.8h0M112.9 131.1h0M75.3 133.7h0M108.3 131.2h0M111.5 154.1h0" stroke="#a9cfcf" stroke-width="1.3" stroke-linecap="round" fill="none"/>
<path d="M124.7 126.5h0M135.5 130.4h0M121.8 134.4h0M167.3 169.4h0M155.8 167.1h0M124.0 127.3h0M103.7 134.1h0M108.0 143.9h0M134.6 147.0h0M133.2 134.7h0M126.0 160.1h0M182.9 160.8h0" stroke="#a01a24" stroke-width="3.2" stroke-linecap="round" fill="none"/>
<path d="M116.2 151.4h0M106.4 149.3h0M106.7 142.6h0M105.1 146.4h0M109.2 142.9h0M113.8 143.6h0M103.0 140.8h0M118.2 147.0h0M104.9 137.4h0M99.5 153.2h0M101.6 140.2h0M104.0 139.4h0" stroke="#4fa2a6" stroke-width="2.2" stroke-linecap="round" fill="none"/>
<path d="M95.7 144.9h0M108.5 127.1h0M100.5 143.5h0M100.3 157.3h0M111.8 157.7h0M88.1 136.9h0M98.1 142.9h0M99.4 138.8h0M111.6 148.9h0M107.9 139.9h0" stroke="#1a1212" stroke-width="1.6" stroke-linecap="round" fill="none"/>
<path d="M116.7 140.4h0M126.3 143.9h0M125.8 156.6h0M120.2 134.0h0M114.4 135.5h0M109.9 163.9h0M117.8 142.7h0M111.6 141.0h0M110.0 147.0h0M127.6 159.2h0M98.3 149.8h0M108.5 139.4h0M111.5 136.9h0M113.5 153.0h0M122.2 137.0h0M85.5 131.3h0M88.2 152.5h0M114.3 154.6h0M100.7 142.2h0" stroke="#b31a24" stroke-width="1.9" stroke-linecap="round" fill="none"/>
<path d="M116.2 149.2h0M115.1 137.0h0M102.3 138.4h0M91.6 148.6h0M107.5 154.1h0M107.6 138.0h0M108.2 152.6h0M133.2 136.2h0M126.4 148.0h0M105.4 143.0h0M108.0 134.4h0M109.2 144.6h0M112.9 119.2h0M123.6 155.3h0M102.5 123.9h0M104.3 135.7h0M101.8 154.5h0M102.4 144.8h0M113.6 143.1h0" stroke="#b31a24" stroke-width="2.4" stroke-linecap="round" fill="none"/>
<path d="M103.7 149.8h0M108.4 143.9h0M96.0 140.0h0M104.0 131.7h0M106.4 129.4h0M103.4 136.6h0M107.7 149.5h0M102.2 140.2h0M108.2 138.4h0M121.1 154.1h0" stroke="#1a1212" stroke-width="1.9" stroke-linecap="round" fill="none"/>
<path d="M145.8 68.4h0M125.2 175.4h0M162.2 165.0h0" stroke="#a01a24" stroke-width="2.2" stroke-linecap="round" fill="none"/>
<path d="M101.7 134.9h0M99.9 131.9h0M115.9 144.1h0M92.1 134.3h0M127.4 131.3h0M119.7 157.3h0M117.4 148.1h0M124.3 156.3h0M113.2 146.9h0M114.1 139.7h0M131.8 132.5h0M106.7 140.9h0M87.5 137.4h0M119.3 146.1h0M106.8 139.7h0M106.0 129.9h0M123.4 129.1h0M129.2 165.3h0M92.9 147.9h0M108.9 156.8h0M99.8 143.9h0M102.7 144.6h0M112.7 118.8h0M120.5 161.0h0M109.2 149.8h0M119.0 129.0h0M103.2 143.5h0" stroke="#b31a24" stroke-width="1.6" stroke-linecap="round" fill="none"/>
<path d="M102.4 169.5h0M102.4 134.6h0M120.6 152.9h0M110.0 145.5h0M109.8 122.4h0M114.6 162.9h0M108.8 154.5h0M121.3 143.9h0M99.3 124.3h0M116.7 149.4h0M102.2 144.9h0M121.2 155.7h0" stroke="#1a1212" stroke-width="2.4" stroke-linecap="round" fill="none"/>
<path d="M109.8 134.5h0M124.8 150.5h0M122.5 137.3h0M134.0 156.0h0" stroke="#a01a24" stroke-width="2.7" stroke-linecap="round" fill="none"/>
<path d="M43.6 181.8h0M104.2 142.8h0M93.6 145.7h0M105.3 145.1h0M130.6 158.1h0M105.8 154.5h0M100.0 143.6h0M111.7 161.7h0M100.6 151.1h0M116.2 150.0h0M99.5 155.1h0M99.0 191.3h0" stroke="#1a1212" stroke-width="2.2" stroke-linecap="round" fill="none"/>
<path d="M97.0 62.5h0M36.5 96.3h0" stroke="#c8c8c8" stroke-width="1.2" stroke-linecap="round" fill="none"/>
<path d="M111.9 145.3h0M126.4 134.7h0M101.4 140.7h0M107.8 148.7h0M113.2 134.5h0M103.3 152.0h0M129.3 144.6h0M124.1 136.5h0M117.7 136.2h0M105.3 141.3h0M105.6 143.4h0M114.3 140.5h0M126.9 140.2h0M105.9 147.6h0M120.2 132.7h0M91.7 123.6h0M105.1 151.2h0M111.9 140.3h0M101.7 144.9h0M107.1 147.5h0M114.7 134.0h0M106.6 150.9h0" stroke="#b31a24" stroke-width="2.2" stroke-linecap="round" fill="none"/>
<path d="M97.4 134.1h0" stroke="#1a1212" stroke-width="2.7" stroke-linecap="round" fill="none"/>
<path d="M96.0 145.8h0M130.1 148.0h0M116.3 151.3h0M137.1 140.4h0M112.4 126.4h0M111.7 119.2h0M132.7 155.3h0M121.4 132.4h0" stroke="#a01a24" stroke-width="2" stroke-linecap="round" fill="none"/>
<path d="M123.3 146.8h0M180.2 103.9h0M143.9 124.0h0M178.3 141.7h0M117.2 140.9h0M125.5 153.8h0M128.8 139.1h0" stroke="#1a1212" stroke-width="3.2" stroke-linecap="round" fill="none"/>
<path d="M112.2 149.7h0M119.7 144.8h0M103.7 141.1h0M113.7 148.6h0M108.0 140.8h0M118.4 141.9h0M112.2 149.3h0" stroke="#4fa2a6" stroke-width="1.6" stroke-linecap="round" fill="none"/>
<path d="M46.8 142.3h0M180.2 167.7h0M102.2 84.8h0M105.1 62.1h0" stroke="#8a8a8a" stroke-width="1.2" stroke-linecap="round" fill="none"/>
<path d="M111.3 185.8h0M105.5 22.8h0M152.4 88.3h0M164.4 157.9h0M73.4 67.5h0M137.4 84.0h0" stroke="#3a3a3a" stroke-width="1.2" stroke-linecap="round" fill="none"/>
<path d="M112.3 144.0h0M103.0 154.3h0M120.4 142.6h0M108.5 146.9h0M103.6 156.1h0M99.9 140.6h0M116.7 149.0h0M93.6 149.5h0M95.3 149.1h0M113.2 150.1h0M111.0 145.9h0M105.2 150.5h0M114.4 145.3h0M104.4 134.1h0" stroke="#4fa2a6" stroke-width="1.9" stroke-linecap="round" fill="none"/>
<path d="M125.2 164.3h0M131.5 139.6h0M140.3 126.0h0M130.2 174.4h0M145.5 128.2h0M114.5 175.3h0" stroke="#a01a24" stroke-width="2.4" stroke-linecap="round" fill="none"/>
<path d="M111.7 139.9h0M112.1 144.4h0M114.7 144.7h0M118.6 144.8h0M107.4 142.6h0M104.9 140.7h0M114.7 141.6h0M113.2 141.2h0M105.4 153.2h0M96.2 143.0h0" stroke="#4fa2a6" stroke-width="1.9" stroke-linecap="round" fill="none"/>
<path d="M109.3 128.7h0M147.5 131.3h0M127.1 148.2h0M130.7 160.9h0M153.4 132.9h0" stroke="#a01a24" stroke-width="2" stroke-linecap="round" fill="none"/>
<path d="M116.1 144.9h0M117.3 137.8h0M98.9 148.4h0M115.2 156.1h0M135.9 138.3h0M117.3 147.6h0M114.8 144.4h0M123.6 150.1h0M100.4 137.6h0M104.4 134.0h0M97.3 126.4h0M99.9 152.5h0M115.7 140.3h0M114.7 134.7h0" stroke="#1a1212" stroke-width="2.4" stroke-linecap="round" fill="none"/>
<path d="M139.9 163.8h0M103.9 126.3h0M146.0 151.2h0M130.4 143.8h0M106.6 124.8h0M127.2 141.9h0" stroke="#a01a24" stroke-width="2.7" stroke-linecap="round" fill="none"/>
<path d="M122.5 143.4h0M119.6 163.2h0M110.9 146.1h0M111.2 149.0h0M103.9 158.4h0M132.7 148.2h0M120.2 138.8h0M140.9 159.1h0M103.1 144.6h0M110.1 149.2h0M106.6 155.8h0M107.5 129.8h0M121.0 141.6h0M98.4 148.6h0M97.6 148.9h0M98.0 144.5h0M108.9 143.1h0M112.5 132.8h0" stroke="#b31a24" stroke-width="2.2" stroke-linecap="round" fill="none"/>
<path d="M59.8 121.4h0M70.8 64.0h0" stroke="#8a8a8a" stroke-width="1.2" stroke-linecap="round" fill="none"/>
<path d="M165.6 150.4h0M50.5 186.7h0M124.4 183.2h0M84.6 186.5h0M89.0 169.0h0M57.2 152.7h0" stroke="#3a3a3a" stroke-width="1.2" stroke-linecap="round" fill="none"/>
<path d="M95.6 140.7h0M115.0 155.2h0M98.4 147.6h0M107.0 154.8h0M119.4 143.2h0M111.0 157.8h0M124.8 128.0h0M116.7 138.6h0M114.5 143.8h0M116.3 136.4h0M117.5 160.8h0M101.4 138.8h0M124.8 140.5h0M106.1 142.8h0M118.6 146.9h0M111.4 149.9h0M109.4 131.1h0M123.9 141.8h0M104.5 141.8h0M110.0 144.8h0M106.1 143.4h0M107.1 133.9h0M128.7 146.0h0M89.5 144.3h0M113.5 138.1h0M114.9 158.8h0M109.8 135.5h0M99.3 137.7h0M122.9 135.8h0M96.1 141.9h0M136.3 144.1h0" stroke="#b31a24" stroke-width="2.4" stroke-linecap="round" fill="none"/>
<path d="M138.2 124.1h0" stroke="#a01a24" stroke-width="2.4" stroke-linecap="round" fill="none"/>
<path d="M120.3 145.7h0M101.4 145.1h0M99.8 135.3h0M119.5 139.9h0M105.9 153.2h0M108.2 141.4h0M113.4 125.6h0M109.9 150.7h0M109.6 131.6h0M103.5 110.7h0M101.3 155.4h0M117.2 141.3h0M121.1 141.9h0M100.6 125.9h0M93.3 146.8h0M115.3 136.1h0M103.8 133.5h0M109.8 164.3h0M114.0 153.2h0M101.1 147.4h0M122.1 129.3h0M111.6 149.2h0M80.6 136.3h0M90.6 145.1h0M106.1 122.0h0" stroke="#b31a24" stroke-width="1.6" stroke-linecap="round" fill="none"/>
<path d="M111.1 140.2h0M43.6 178.1h0M102.3 144.4h0M118.0 135.7h0M82.3 137.4h0M134.0 152.9h0M151.8 105.3h0M110.2 145.0h0M109.5 122.1h0M115.9 141.8h0M105.8 143.8h0M117.1 136.3h0M111.0 145.5h0M102.8 148.1h0M108.1 143.4h0M117.9 159.0h0M100.8 136.5h0M96.2 135.2h0" stroke="#1a1212" stroke-width="2.2" stroke-linecap="round" fill="none"/>
<path d="M161.5 149.2h0M136.5 107.3h0M124.7 91.7h0M171.7 169.2h0" stroke="#a01a24" stroke-width="2.2" stroke-linecap="round" fill="none"/>
<path d="M153.5 125.6h0M125.7 159.8h0M114.8 136.6h0M72.5 193.7h0M115.3 145.0h0M121.8 136.0h0M156.9 128.8h0M170.5 84.6h0M139.4 116.8h0M123.7 127.8h0M129.7 119.1h0" stroke="#a01a24" stroke-width="3.2" stroke-linecap="round" fill="none"/>
<path d="M95.4 137.4h0M111.5 140.2h0M124.9 144.9h0M102.3 148.7h0M91.0 139.2h0M78.4 144.6h0M102.9 136.9h0M109.7 143.1h0M118.4 143.5h0M110.8 144.5h0M127.7 155.4h0M80.8 152.7h0M118.1 145.7h0M131.1 139.2h0" stroke="#1a1212" stroke-width="1.9" stroke-linecap="round" fill="none"/>
<path d="M109.2 128.3h0M148.5 139.1h0M126.2 123.2h0" stroke="#1a1212" stroke-width="2.7" stroke-linecap="round" fill="none"/>
<path d="M155.6 189.8h0M148.4 86.0h0M58.4 89.8h0" stroke="#c8c8c8" stroke-width="1.2" stroke-linecap="round" fill="none"/>
<path d="M67.4 148.7h0M102.6 142.9h0M99.9 149.2h0M102.6 147.3h0M117.6 151.3h0" stroke="#4fa2a6" stroke-width="2.2" stroke-linecap="round" fill="none"/>
<path d="M104.6 152.0h0M114.2 155.4h0M110.9 134.8h0M134.2 147.0h0M102.4 139.5h0M113.3 147.9h0M100.5 150.7h0M111.9 133.7h0M112.1 147.7h0M116.6 151.6h0M113.0 126.5h0M101.4 143.8h0M102.4 137.8h0M106.1 139.6h0M106.5 126.6h0M128.3 152.1h0" stroke="#b31a24" stroke-width="1.9" stroke-linecap="round" fill="none"/>
<path d="M114.4 147.4h0M104.8 161.2h0M105.7 139.6h0M116.6 149.2h0M103.8 146.2h0M113.5 143.6h0M105.1 144.4h0M107.5 149.7h0M103.9 138.7h0M102.3 145.3h0M116.2 144.6h0M105.9 143.7h0" stroke="#4fa2a6" stroke-width="1.6" stroke-linecap="round" fill="none"/>
<path d="M122.2 148.0h0M108.1 145.3h0M105.9 135.0h0M114.4 146.1h0M121.9 136.6h0M107.5 139.2h0M112.4 152.6h0M109.4 121.5h0M99.2 143.0h0M114.1 151.2h0M106.5 150.2h0M99.4 145.9h0M105.8 148.6h0" stroke="#1a1212" stroke-width="1.6" stroke-linecap="round" fill="none"/>
<path d="M114.5 143.4h0M151.7 119.8h0M106.8 157.6h0M113.9 144.2h0M114.7 148.5h0M99.9 147.9h0M99.3 142.8h0M97.5 147.4h0M115.7 142.4h0M123.0 161.9h0M97.7 155.2h0M94.3 147.1h0M119.9 138.5h0M110.2 151.5h0M125.8 148.4h0M113.4 151.7h0" stroke="#1a1212" stroke-width="2.2" stroke-linecap="round" fill="none"/>
<path d="M170.8 91.2h0M86.0 85.4h0M117.2 88.6h0M139.7 91.7h0" stroke="#c8c8c8" stroke-width="1.2" stroke-linecap="round" fill="none"/>
<path d="M144.3 158.3h0" stroke="#a01a24" stroke-width="2.7" stroke-linecap="round" fill="none"/>
<path d="M113.1 142.2h0M103.3 154.5h0M110.5 137.5h0M98.4 146.4h0" stroke="#4fa2a6" stroke-width="1.9" stroke-linecap="round" fill="none"/>
<path d="M105.4 130.0h0M92.0 142.9h0M128.3 134.4h0M121.1 134.4h0M102.8 151.4h0M114.1 160.4h0M105.9 148.7h0M123.1 140.3h0M115.0 140.8h0M103.2 146.8h0M101.5 143.8h0M114.3 157.3h0M97.5 151.1h0M116.3 146.5h0M112.3 147.7h0M103.6 142.8h0M125.9 143.8h0M124.2 141.7h0M81.7 138.8h0M109.5 143.3h0M121.4 134.2h0M103.8 139.8h0M108.9 168.4h0M89.2 149.1h0M96.4 154.1h0M103.8 142.2h0M127.8 153.3h0M120.5 165.2h0M121.8 133.7h0M101.1 141.3h0M107.3 152.7h0M116.8 167.1h0M107.8 132.9h0M115.3 162.3h0M114.9 159.5h0" stroke="#b31a24" stroke-width="1.9" stroke-linecap="round" fill="none"/>
<path d="M132.0 134.2h0M124.7 130.9h0M147.9 146.4h0" stroke="#1a1212" stroke-width="2" stroke-linecap="round" fill="none"/>
<path d="M142.4 133.6h0M137.6 117.0h0M123.2 134.6h0M96.6 134.8h0M141.9 137.5h0" stroke="#a01a24" stroke-width="2" stroke-linecap="round" fill="none"/>
<path d="M121.8 124.3h0M133.7 153.1h0" stroke="#a01a24" stroke-width="2.4" stroke-linecap="round" fill="none"/>
<path d="M105.0 142.5h0M83.6 140.6h0M109.4 159.4h0M107.7 139.4h0M128.6 165.3h0M112.8 136.8h0M127.8 128.9h0M104.2 152.4h0M98.1 150.7h0M113.9 161.2h0M108.6 136.4h0M138.0 154.7h0M110.8 137.4h0M104.2 165.6h0M90.1 145.3h0" stroke="#1a1212" stroke-width="2.4" stroke-linecap="round" fill="none"/>
<path d="M133.4 122.6h0M122.2 128.1h0M138.8 138.0h0" stroke="#1a1212" stroke-width="2.7" stroke-linecap="round" fill="none"/>
<path d="M122.9 134.7h0M100.3 134.2h0M125.5 146.9h0M101.6 142.2h0M124.8 139.9h0M93.0 159.4h0M100.7 155.2h0M142.3 141.5h0M122.6 146.1h0M108.0 141.2h0M100.2 138.4h0M129.2 139.5h0M131.1 152.4h0M104.1 153.7h0" stroke="#b31a24" stroke-width="2.2" stroke-linecap="round" fill="none"/>
<path d="M72.8 109.8h0M115.6 195.9h0" stroke="#8a8a8a" stroke-width="1.2" stroke-linecap="round" fill="none"/>
<path d="M71.7 161.7h0M134.6 132.0h0M162.7 121.8h0" stroke="#1a1212" stroke-width="3.2" stroke-linecap="round" fill="none"/>
<path d="M102.1 203.1h0M153.1 88.6h0M79.5 65.5h0M75.9 51.6h0" stroke="#3a3a3a" stroke-width="1.2" stroke-linecap="round" fill="none"/>
<path d="M112.1 138.9h0M107.8 120.4h0M112.3 140.9h0M123.3 159.0h0M107.3 147.2h0M108.1 114.8h0M110.2 142.3h0M124.2 152.1h0M122.7 138.4h0M91.7 159.3h0M121.0 147.1h0M122.1 147.0h0M110.1 151.3h0M114.7 144.7h0M105.6 133.5h0M98.2 145.6h0M130.9 142.3h0M104.8 134.7h0M103.1 150.4h0M119.2 131.9h0M117.6 133.5h0M114.2 143.6h0M97.2 136.6h0M107.0 138.0h0M99.5 139.8h0M95.2 136.3h0" stroke="#b31a24" stroke-width="2.4" stroke-linecap="round" fill="none"/>
<path d="M94.3 156.4h0M109.1 149.8h0M124.1 132.0h0M127.6 133.0h0M94.9 155.9h0M129.7 146.9h0M132.7 140.2h0M111.9 138.8h0M109.6 138.4h0M107.3 131.6h0M108.8 144.4h0" stroke="#1a1212" stroke-width="1.9" stroke-linecap="round" fill="none"/>
<path d="M106.7 152.0h0M105.7 152.9h0M83.8 117.7h0M114.4 144.9h0M107.2 149.7h0M106.6 148.1h0M101.7 146.1h0M105.2 156.7h0M112.5 152.0h0M109.0 148.0h0M111.7 141.7h0" stroke="#4fa2a6" stroke-width="2.2" stroke-linecap="round" fill="none"/>
<path d="M145.6 106.9h0M147.6 106.9h0M141.5 128.8h0M151.2 140.0h0M151.2 151.0h0M124.6 133.4h0M112.7 144.2h0M151.2 141.7h0M161.5 158.2h0M158.7 161.3h0M161.5 156.2h0M172.5 131.3h0M123.3 135.3h0M155.8 164.2h0M126.8 131.5h0" stroke="#a01a24" stroke-width="3.2" stroke-linecap="round" fill="none"/>
<path d="M91.3 172.9h0M152.1 105.6h0M128.7 112.3h0M153.5 131.9h0M146.5 199.8h0M247.5 140.0h0M160.6 151.0h0M89.3 176.1h0" stroke="#a01a24" stroke-width="2.2" stroke-linecap="round" fill="none"/>
<path d="M108.4 135.6h0M112.5 145.8h0M109.3 146.7h0M103.0 134.6h0M99.2 150.3h0M89.4 141.8h0M112.4 147.8h0M123.7 154.3h0M108.9 141.4h0M101.8 140.3h0M121.2 127.2h0M101.1 151.1h0M121.1 145.3h0M105.8 143.1h0M108.4 151.0h0" stroke="#1a1212" stroke-width="1.6" stroke-linecap="round" fill="none"/>
<path d="M105.6 136.2h0M122.9 124.5h0M106.7 143.2h0M127.3 161.5h0M115.9 150.8h0M117.8 144.7h0M126.2 125.2h0M105.2 152.9h0M110.9 148.1h0M107.9 144.3h0M112.1 145.5h0M117.9 133.1h0M113.0 126.8h0M103.6 163.6h0M113.3 150.5h0" stroke="#b31a24" stroke-width="1.6" stroke-linecap="round" fill="none"/>
<path d="M116.7 149.3h0M112.2 138.1h0M106.9 151.5h0M112.6 144.9h0M109.8 138.3h0M107.5 140.6h0" stroke="#4fa2a6" stroke-width="1.6" stroke-linecap="round" fill="none"/>
<path d="M136.0 137.9h0M218.3 92.1h0M135.6 179.4h0M131.1 139.9h0" stroke="#1a1212" stroke-width="3.2" stroke-linecap="round" fill="none"/>
<path d="M110.2 132.3h0" stroke="#1a1212" stroke-width="2" stroke-linecap="round" fill="none"/>
<path d="M108.0 132.0h0M107.7 150.2h0M116.3 138.4h0M119.8 161.5h0M125.3 141.7h0M104.6 142.3h0M113.9 146.1h0M102.4 125.8h0M110.6 147.0h0M101.5 131.4h0M113.7 147.0h0M108.7 139.7h0" stroke="#1a1212" stroke-width="1.6" stroke-linecap="round" fill="none"/>
<path d="M132.5 117.4h0M142.3 97.3h0M139.7 117.7h0M184.0 159.4h0M151.2 152.7h0M162.5 164.5h0M111.4 119.1h0" stroke="#a01a24" stroke-width="3.2" stroke-linecap="round" fill="none"/>
<path d="M103.9 138.5h0M107.0 149.6h0M121.9 145.3h0M120.2 147.4h0M100.3 139.3h0M127.7 144.4h0M109.0 142.4h0M126.8 147.2h0M118.7 151.1h0M108.0 152.5h0M124.2 140.5h0M115.9 159.2h0M110.9 144.7h0M103.3 147.9h0M119.1 150.0h0M106.7 140.4h0M121.8 131.1h0M122.9 135.2h0" stroke="#b31a24" stroke-width="2.2" stroke-linecap="round" fill="none"/>
<path d="M42.8 64.6h0M76.6 113.4h0M115.7 67.8h0M84.3 78.7h0" stroke="#3a3a3a" stroke-width="1.2" stroke-linecap="round" fill="none"/>
<path d="M150.6 133.7h0M94.8 178.8h0M143.4 71.2h0M127.8 107.5h0M126.7 94.4h0M96.3 185.2h0M97.5 176.0h0M157.5 134.2h0M81.1 183.6h0" stroke="#a01a24" stroke-width="2.2" stroke-linecap="round" fill="none"/>
<path d="M82.6 150.6h0M95.1 136.6h0M115.1 153.1h0M169.6 147.8h0M106.0 140.8h0M116.7 130.0h0M120.7 154.0h0M109.0 144.4h0M109.3 156.8h0M103.0 148.3h0M101.7 123.1h0M109.9 143.9h0M77.4 125.5h0M109.8 146.8h0M106.8 153.9h0M112.2 146.1h0M98.4 135.3h0M176.0 102.8h0M110.0 145.5h0M109.4 145.7h0M104.5 156.2h0M115.7 144.7h0M106.2 153.5h0" stroke="#1a1212" stroke-width="2.2" stroke-linecap="round" fill="none"/>
<path d="M128.2 151.1h0M141.7 120.5h0" stroke="#1a1212" stroke-width="2.7" stroke-linecap="round" fill="none"/>
<path d="M125.3 159.7h0M132.6 135.3h0" stroke="#a01a24" stroke-width="2" stroke-linecap="round" fill="none"/>
<path d="M107.4 148.5h0M107.4 122.9h0M126.7 138.3h0" stroke="#a01a24" stroke-width="2.4" stroke-linecap="round" fill="none"/>
<path d="M128.1 133.8h0M100.4 145.4h0M138.9 148.9h0M118.4 146.7h0M107.4 148.7h0M104.8 135.2h0M97.6 136.9h0M126.8 125.4h0M89.4 145.4h0M133.6 147.9h0M117.8 141.2h0M88.9 145.7h0M111.0 137.5h0M110.1 144.5h0M94.7 144.8h0M101.5 147.5h0M119.2 141.0h0M111.8 148.0h0M98.8 141.1h0M103.9 154.4h0M121.4 147.3h0M106.9 139.9h0M115.1 152.6h0M119.2 149.9h0" stroke="#b31a24" stroke-width="1.6" stroke-linecap="round" fill="none"/>
<path d="M115.2 125.7h0M99.6 133.9h0M102.1 157.8h0M94.8 142.5h0M115.8 158.6h0M101.7 140.6h0M128.0 149.4h0M100.5 143.6h0M106.2 145.0h0M125.2 147.3h0M119.2 143.7h0M103.6 143.6h0M122.6 163.1h0M124.2 137.7h0" stroke="#1a1212" stroke-width="2.4" stroke-linecap="round" fill="none"/>
<path d="M111.6 151.3h0M102.8 148.3h0M116.1 146.2h0M112.3 141.5h0M105.3 140.4h0M104.2 138.6h0M103.6 149.0h0M103.9 148.7h0M103.8 144.9h0M103.3 147.6h0M109.2 156.6h0" stroke="#4fa2a6" stroke-width="1.6" stroke-linecap="round" fill="none"/>
<path d="M104.4 156.1h0M104.0 143.1h0M121.3 146.3h0M105.0 149.0h0M110.5 148.0h0M105.4 137.1h0M108.0 150.9h0M103.6 149.1h0M102.5 142.1h0M119.3 145.8h0M115.3 142.1h0M109.6 150.9h0M116.1 122.9h0M90.4 148.6h0" stroke="#1a1212" stroke-width="1.9" stroke-linecap="round" fill="none"/>
<path d="M110.2 172.5h0M114.5 141.6h0M102.7 148.9h0M120.3 144.6h0M111.1 155.8h0M112.0 152.5h0M107.3 148.6h0" stroke="#4fa2a6" stroke-width="2.2" stroke-linecap="round" fill="none"/>
<path d="M104.8 126.7h0M108.9 144.2h0M107.9 145.6h0M98.1 147.7h0M104.2 146.6h0M114.8 149.2h0M116.4 138.1h0M101.4 123.4h0M106.1 147.0h0M130.5 139.1h0M97.7 152.2h0M115.0 133.0h0M114.6 137.6h0M104.2 115.5h0M110.5 151.5h0M100.9 126.6h0" stroke="#b31a24" stroke-width="2.4" stroke-linecap="round" fill="none"/>
<path d="M149.8 120.4h0M140.9 124.1h0M119.8 149.3h0M108.5 151.8h0M119.6 110.2h0" stroke="#a01a24" stroke-width="2.7" stroke-linecap="round" fill="none"/>
<path d="M101.8 135.5h0M119.9 131.3h0M91.7 151.6h0M123.5 125.0h0M105.9 137.4h0M92.4 148.2h0M139.2 136.7h0M81.3 142.7h0M124.1 147.3h0M114.4 146.6h0M117.2 150.1h0M100.5 151.9h0M102.1 139.1h0M114.4 143.5h0M113.6 144.0h0M129.9 139.2h0M119.3 143.3h0M102.1 121.5h0" stroke="#b31a24" stroke-width="1.9" stroke-linecap="round" fill="none"/>
<path d="M97.0 137.1h0M110.7 147.8h0M108.8 151.1h0M110.1 141.9h0M100.1 150.7h0M111.4 147.2h0M113.2 148.2h0M107.5 148.5h0M101.2 147.8h0M108.8 136.8h0M116.3 152.4h0M104.3 144.1h0M106.4 140.3h0" stroke="#4fa2a6" stroke-width="1.9" stroke-linecap="round" fill="none"/>
<path d="M86.0 69.8h0M165.0 84.8h0M69.0 87.1h0M131.0 74.4h0M82.0 99.2h0" stroke="#c8c8c8" stroke-width="1.2" stroke-linecap="round" fill="none"/>
<path d="M190.2 152.1h0M167.3 125.2h0M140.8 181.7h0M226.4 85.6h0M60.9 112.5h0" stroke="#8a8a8a" stroke-width="1.2" stroke-linecap="round" fill="none"/>
<path d="M107.7 139.3h0M106.5 148.9h0M112.1 151.4h0M102.8 150.8h0M102.8 143.6h0M105.1 144.5h0M119.1 143.9h0M116.7 143.8h0M104.5 144.4h0M98.8 142.1h0" stroke="#4fa2a6" stroke-width="2.2" stroke-linecap="round" fill="none"/>
<path d="M85.8 191.6h0M87.0 105.6h0M74.3 118.3h0M118.7 139.7h0M100.4 154.1h0M82.6 168.6h0M94.0 144.2h0M90.2 165.7h0M99.5 144.3h0M79.2 168.6h0M133.9 148.9h0M106.0 138.8h0M110.3 142.0h0M115.0 149.0h0M109.4 152.5h0M118.1 139.3h0" stroke="#1a1212" stroke-width="2.2" stroke-linecap="round" fill="none"/>
<path d="M107.9 155.1h0M107.9 142.6h0M100.3 131.2h0" stroke="#4fa2a6" stroke-width="1.9" stroke-linecap="round" fill="none"/>
<path d="M67.8 97.8h0M78.0 101.0h0M63.9 98.7h0" stroke="#8a8a8a" stroke-width="1.2" stroke-linecap="round" fill="none"/>
<path d="M187.8 59.2h0M125.5 205.4h0M112.0 191.0h0M181.7 129.4h0" stroke="#3a3a3a" stroke-width="1.2" stroke-linecap="round" fill="none"/>
<path d="M71.0 124.4h0M45.7 59.4h0M183.5 94.4h0M165.0 40.8h0" stroke="#c8c8c8" stroke-width="1.2" stroke-linecap="round" fill="none"/>
<path d="M118.8 121.9h0M123.1 118.6h0M127.5 142.6h0M134.9 121.0h0M128.7 118.0h0M117.8 165.9h0" stroke="#a01a24" stroke-width="2.4" stroke-linecap="round" fill="none"/>
<path d="M155.8 133.7h0M98.7 177.1h0M99.8 185.8h0M158.3 111.7h0M232.2 127.7h0M180.0 144.4h0" stroke="#a01a24" stroke-width="2.2" stroke-linecap="round" fill="none"/>
<path d="M103.9 148.0h0M107.7 123.8h0M118.0 132.7h0M99.1 145.8h0M122.9 137.3h0M105.0 141.6h0M131.5 153.9h0M118.0 144.9h0M111.4 145.6h0M121.2 143.3h0M128.4 140.0h0M115.1 144.8h0M100.2 143.7h0M107.0 143.7h0M126.8 142.1h0M108.5 134.0h0M111.1 149.9h0M107.9 136.7h0M107.1 153.9h0M115.3 149.0h0M96.2 145.5h0M93.2 134.7h0" stroke="#b31a24" stroke-width="1.9" stroke-linecap="round" fill="none"/>
<path d="M111.3 137.5h0M101.2 137.7h0M115.8 160.1h0M126.5 148.5h0M104.3 132.8h0M95.1 144.3h0M102.0 148.2h0M123.6 147.8h0M105.6 140.6h0M128.2 135.7h0M117.1 137.6h0M111.6 134.4h0M109.3 135.1h0M111.3 147.8h0M91.9 140.5h0M114.3 135.9h0M97.1 153.4h0M105.4 117.1h0M117.8 136.6h0M140.3 141.0h0M104.6 143.0h0M117.1 150.2h0M115.9 137.0h0M105.9 150.9h0M98.1 128.3h0M99.7 153.1h0M97.4 151.0h0M99.5 140.5h0M96.1 146.4h0M123.2 156.8h0" stroke="#b31a24" stroke-width="1.6" stroke-linecap="round" fill="none"/>
<path d="M107.3 135.3h0M108.9 148.9h0M106.6 147.1h0M114.3 140.2h0M111.7 143.4h0" stroke="#4fa2a6" stroke-width="1.6" stroke-linecap="round" fill="none"/>
<path d="M149.4 134.0h0M127.5 158.2h0M118.1 124.5h0" stroke="#a01a24" stroke-width="2" stroke-linecap="round" fill="none"/>
<path d="M127.7 156.7h0M108.5 141.5h0M100.6 135.6h0M87.6 148.9h0M100.8 134.3h0M106.1 141.8h0M100.7 138.7h0M112.5 152.6h0M111.8 148.4h0M108.5 138.7h0M114.6 136.1h0M107.6 157.0h0M95.5 141.7h0M99.6 150.8h0M89.7 157.0h0M139.5 159.4h0M105.9 161.7h0M110.9 152.7h0" stroke="#1a1212" stroke-width="2.4" stroke-linecap="round" fill="none"/>
<path d="M131.9 167.5h0M124.3 137.9h0M96.3 141.5h0M118.7 132.5h0M107.9 149.8h0M115.5 135.0h0M114.4 137.7h0M100.8 148.5h0M109.4 144.9h0M109.2 157.7h0M96.8 149.2h0M93.0 135.4h0M121.4 144.5h0M107.0 144.5h0" stroke="#1a1212" stroke-width="1.6" stroke-linecap="round" fill="none"/>
<path d="M97.5 134.8h0M97.9 140.6h0M112.9 152.0h0M103.0 145.4h0M93.9 164.8h0M94.0 125.5h0M118.9 137.7h0M115.3 155.4h0M105.8 146.7h0M103.8 150.8h0M95.9 155.7h0M106.3 149.5h0M104.4 138.9h0M114.0 139.7h0M91.9 149.9h0M101.2 148.1h0" stroke="#1a1212" stroke-width="1.9" stroke-linecap="round" fill="none"/>
<path d="M98.7 133.2h0M105.9 147.8h0M112.2 123.7h0M98.7 127.9h0M122.5 156.9h0M127.5 127.3h0M96.8 127.1h0M115.7 120.8h0M105.8 150.8h0M106.3 156.5h0M96.3 145.5h0M111.4 136.0h0M110.3 125.9h0M114.1 141.1h0M121.2 129.7h0M132.2 155.6h0M107.3 160.3h0M116.4 143.2h0" stroke="#b31a24" stroke-width="2.2" stroke-linecap="round" fill="none"/>
<path d="M171.3 134.2h0M124.9 150.2h0M174.2 135.2h0M131.0 126.5h0M140.9 118.2h0M135.8 127.8h0M136.6 137.9h0M131.1 140.2h0M123.4 119.6h0M137.1 98.1h0" stroke="#a01a24" stroke-width="3.2" stroke-linecap="round" fill="none"/>
<path d="M107.6 166.1h0M146.4 144.9h0" stroke="#a01a24" stroke-width="2.7" stroke-linecap="round" fill="none"/>
<path d="M127.1 107.6h0M158.3 172.9h0M121.8 135.0h0M186.1 132.3h0" stroke="#1a1212" stroke-width="3.2" stroke-linecap="round" fill="none"/>
<path d="M108.7 140.2h0M111.9 137.1h0M110.4 137.2h0M121.2 138.0h0M126.5 149.6h0M129.7 148.6h0M111.3 156.9h0M108.3 142.5h0M103.8 130.6h0M123.3 162.2h0M128.7 127.2h0M91.8 155.9h0M117.6 132.3h0M99.8 145.4h0M109.3 132.2h0M111.1 139.4h0M111.7 137.7h0M134.0 137.0h0M130.7 134.1h0M118.3 148.5h0M107.8 143.5h0M124.4 147.2h0M92.9 144.2h0M131.2 130.9h0" stroke="#b31a24" stroke-width="2.4" stroke-linecap="round" fill="none"/>
<path d="M121.1 149.9h0M101.6 150.4h0M108.3 132.0h0M100.8 147.0h0M107.9 139.8h0" stroke="#4fa2a6" stroke-width="1.6" stroke-linecap="round" fill="none"/>
<path d="M109.1 137.3h0M106.6 142.1h0" stroke="#4fa2a6" stroke-width="2.2" stroke-linecap="round" fill="none"/>
<path d="M120.3 141.2h0M113.8 145.8h0M103.3 145.8h0M99.0 148.5h0" stroke="#4fa2a6" stroke-width="1.9" stroke-linecap="round" fill="none"/>
<path d="M103.0 146.6h0M101.5 145.5h0" stroke="#4fa2a6" stroke-width="1.6" stroke-linecap="round" fill="none"/>
<path d="M100.6 148.5h0M102.2 141.9h0" stroke="#4fa2a6" stroke-width="2.2" stroke-linecap="round" fill="none"/>
<path d="M107.6 153.4h0M91.4 148.7h0M121.1 145.6h0M115.2 150.1h0" stroke="#4fa2a6" stroke-width="1.6" stroke-linecap="round" fill="none"/>
<path d="M106.9 145.2h0M103.4 149.0h0M113.3 148.8h0" stroke="#4fa2a6" stroke-width="1.9" stroke-linecap="round" fill="none"/>
<path d="M102.6 143.0h0M102.9 140.6h0M98.7 146.9h0M114.0 140.8h0" stroke="#4fa2a6" stroke-width="1.9" stroke-linecap="round" fill="none"/>
<path d="M115.9 143.7h0M98.6 148.9h0M112.3 143.1h0" stroke="#4fa2a6" stroke-width="2.2" stroke-linecap="round" fill="none"/>
<path d="M115.1 139.8h0" stroke="#4fa2a6" stroke-width="1.6" stroke-linecap="round" fill="none"/>
<path d="M98.9 144.6h0M105.9 136.2h0M108.6 139.7h0M102.1 136.3h0" stroke="#4fa2a6" stroke-width="1.6" stroke-linecap="round" fill="none"/>
<path d="M110.8 142.6h0M107.8 138.4h0" stroke="#4fa2a6" stroke-width="1.9" stroke-linecap="round" fill="none"/>
<path d="M112.1 147.5h0M101.8 139.7h0" stroke="#4fa2a6" stroke-width="2.2" stroke-linecap="round" fill="none"/>
</g><g filter="url(#bl)">
<rect x="33.3" y="17.8" width="62.5" height="29.8" fill="#fff" stroke="#707070" stroke-width="1"/>
<circle cx="38.9" cy="25.8" r="1.3" fill="#8b1c2a"/>
<text x="44.9" y="28.1" font-size="6.4" text-anchor="start" fill="#111" stroke="#111" stroke-width="0.15">most enriched</text>
<circle cx="38.9" cy="33.5" r="1.3" fill="#1a1212"/>
<text x="44.9" y="35.8" font-size="6.4" text-anchor="start" fill="#111" stroke="#111" stroke-width="0.15">median enriched</text>
<circle cx="38.9" cy="40.8" r="1.3" fill="#a8cccc"/>
<text x="44.9" y="43.1" font-size="6.4" text-anchor="start" fill="#111" stroke="#111" stroke-width="0.15">least enriched</text>
<rect x="195.8" y="185.5" width="58.7" height="30.3" fill="#fff" stroke="#707070" stroke-width="1"/>
<circle cx="201.5" cy="193.5" r="1.7" fill="#111"/>
<text x="207.4" y="195.8" font-size="6.4" text-anchor="start" fill="#111" stroke="#111" stroke-width="0.15">p−value &lt; 1e−6</text>
<circle cx="201.5" cy="201" r="1.15" fill="#111"/>
<text x="207.4" y="203.3" font-size="6.4" text-anchor="start" fill="#111" stroke="#111" stroke-width="0.15">p−value = 1e−4</text>
<circle cx="201.5" cy="208.5" r="0.55" fill="#111"/>
<text x="207.4" y="210.8" font-size="6.4" text-anchor="start" fill="#111" stroke="#111" stroke-width="0.15">p−value &gt; 0.01</text>
<rect x="33.3" y="17.8" width="221.2" height="198" fill="none" stroke="#666" stroke-width="1.1"/>
<line x1="54.5" y1="215.8" x2="54.5" y2="219.6" stroke="#666" stroke-width="1"/>
<text x="54.5" y="229.9" font-size="6.5" text-anchor="middle" fill="#111" stroke="#111" stroke-width="0.15">-2</text>
<line x1="109.4" y1="215.8" x2="109.4" y2="219.6" stroke="#666" stroke-width="1"/>
<text x="109.4" y="229.9" font-size="6.5" text-anchor="middle" fill="#111" stroke="#111" stroke-width="0.15">0</text>
<line x1="164.3" y1="215.8" x2="164.3" y2="219.6" stroke="#666" stroke-width="1"/>
<text x="164.3" y="229.9" font-size="6.5" text-anchor="middle" fill="#111" stroke="#111" stroke-width="0.15">2</text>
<line x1="219.2" y1="215.8" x2="219.2" y2="219.6" stroke="#666" stroke-width="1"/>
<text x="219.2" y="229.9" font-size="6.5" text-anchor="middle" fill="#111" stroke="#111" stroke-width="0.15">4</text>
<line x1="33.3" y1="196.6" x2="29.5" y2="196.6" stroke="#666" stroke-width="1"/>
<text x="24" y="196.6" font-size="6.5" text-anchor="middle" fill="#111" stroke="#111" stroke-width="0.15" transform="rotate(-90 24 196.6)">-2</text>
<line x1="33.3" y1="147.6" x2="29.5" y2="147.6" stroke="#666" stroke-width="1"/>
<text x="24" y="147.6" font-size="6.5" text-anchor="middle" fill="#111" stroke="#111" stroke-width="0.15" transform="rotate(-90 24 147.6)">0</text>
<line x1="33.3" y1="98.6" x2="29.5" y2="98.6" stroke="#666" stroke-width="1"/>
<text x="24" y="98.6" font-size="6.5" text-anchor="middle" fill="#111" stroke="#111" stroke-width="0.15" transform="rotate(-90 24 98.6)">2</text>
<line x1="33.3" y1="49.6" x2="29.5" y2="49.6" stroke="#666" stroke-width="1"/>
<text x="24" y="49.6" font-size="6.5" text-anchor="middle" fill="#111" stroke="#111" stroke-width="0.15" transform="rotate(-90 24 49.6)">4</text>
<text x="70.6" y="10.2" font-size="12.1" text-anchor="start" fill="#111" stroke="#111" stroke-width="0.15">H3K27me3 adult HSPCs</text>
<text x="129.7" y="244.6" font-size="10" text-anchor="middle" fill="#111" stroke="#111" stroke-width="0.15">Suz12 - NS (LFC)</text>
<text x="10.2" y="117.5" font-size="10" text-anchor="middle" fill="#111" stroke="#111" stroke-width="0.15" transform="rotate(-90 10.2 117.5)">Jarid2 - NS (LFC)</text>
<line x1="373.4" y1="16.45" x2="373.4" y2="214.45" stroke="#c4c4c4" stroke-width="1"/>
<line x1="297.3" y1="146.25" x2="518.5" y2="146.25" stroke="#c4c4c4" stroke-width="1"/>
</g><g filter="url(#bl)">
<path d="M389.9 148.9h0M382.9 140.2h0M395.1 129.0h0M376.4 139.8h0M400.2 130.0h0M370.6 143.0h0M383.6 133.0h0M383.1 162.0h0M391.8 134.1h0M385.2 157.6h0M385.3 145.2h0M401.8 122.4h0M383.9 157.6h0M381.7 135.0h0M386.8 154.6h0M381.8 136.2h0M367.2 148.5h0M377.5 127.8h0M390.5 133.2h0M376.0 145.0h0M377.4 128.0h0M362.9 117.8h0M399.5 152.0h0M389.6 155.2h0M382.8 115.5h0M382.2 158.7h0M399.0 133.8h0M374.4 137.7h0M370.2 146.2h0M400.2 142.5h0M381.2 124.4h0M378.0 147.6h0M378.7 153.1h0M362.8 134.0h0M405.9 138.7h0M405.8 138.3h0M401.0 125.2h0M405.5 149.2h0M377.3 159.3h0M376.2 144.4h0M394.6 156.5h0M389.6 149.4h0M376.6 152.5h0M387.0 140.7h0M392.0 151.6h0M400.6 165.6h0M372.9 129.4h0M363.6 128.9h0M389.1 135.8h0M385.0 117.9h0M382.3 156.0h0M384.7 126.6h0M370.8 155.6h0M393.8 120.7h0M383.6 167.3h0M379.6 152.9h0M373.3 117.8h0M381.9 127.3h0M375.7 152.3h0M384.7 130.9h0M367.6 130.0h0M380.5 134.5h0M373.3 147.3h0M376.2 132.5h0M390.6 129.5h0M396.3 154.8h0M382.3 142.6h0M364.2 146.8h0M369.1 100.7h0M393.5 117.0h0M393.1 150.7h0M396.1 121.7h0M352.5 106.9h0M387.4 146.6h0M385.6 136.6h0M387.6 121.0h0M387.0 159.2h0M386.2 128.6h0M391.8 150.1h0M396.4 156.1h0M398.3 129.9h0M384.6 145.6h0M380.8 133.8h0M355.5 119.3h0M378.0 131.5h0M368.0 133.8h0M375.1 132.4h0M379.0 135.7h0M388.9 134.6h0M375.0 142.6h0M383.6 122.2h0M374.8 135.0h0M390.3 132.2h0M391.8 147.2h0M399.0 135.3h0M375.8 149.9h0M371.7 134.7h0M368.1 155.8h0M374.7 131.0h0M375.0 153.9h0M373.8 114.8h0M369.9 110.7h0M381.4 160.7h0M386.7 116.1h0M380.6 135.8h0M388.3 111.8h0M409.7 118.9h0M366.0 151.1h0M383.7 150.2h0M381.7 163.4h0M380.0 162.7h0M404.1 138.8h0" stroke="#b5303c" stroke-width="1.3" stroke-linecap="round" fill="none"/>
<path d="M361.1 119.8h0M356.1 152.8h0M385.1 163.2h0M374.8 123.3h0M368.2 154.1h0M368.7 143.9h0M376.0 144.3h0M374.9 127.5h0M361.6 122.7h0M368.0 170.1h0M358.8 109.4h0M366.2 130.4h0M363.7 129.3h0M355.6 155.7h0M380.7 144.3h0M380.4 136.9h0M359.2 157.8h0M364.8 153.3h0M378.5 132.3h0M374.4 149.7h0M330.7 155.9h0M380.7 128.9h0M355.7 120.5h0M374.8 149.3h0M368.0 141.9h0M361.2 133.6h0M388.5 130.2h0M379.1 141.3h0M358.9 150.5h0M383.2 151.4h0M367.4 133.4h0M375.6 124.9h0M371.4 157.4h0M368.8 148.5h0M356.9 152.0h0M373.1 147.2h0M384.0 133.4h0M365.9 161.0h0M386.6 136.0h0M367.4 84.7h0M369.4 129.2h0M364.3 144.0h0M351.0 137.4h0M370.9 139.2h0M355.1 150.6h0M374.7 129.8h0M386.2 150.7h0M375.1 149.2h0M355.4 141.4h0M369.7 160.5h0M370.1 151.5h0M365.8 164.9h0M353.6 144.4h0M384.2 155.8h0M382.2 148.0h0M363.0 139.5h0M373.1 168.4h0M358.7 190.5h0M354.4 151.4h0M366.6 155.8h0M371.7 141.6h0M361.3 161.0h0M375.2 131.7h0M365.4 130.9h0M377.0 134.8h0M385.2 145.6h0M361.6 143.4h0M374.0 169.7h0M348.1 139.6h0M378.7 129.9h0M352.0 132.4h0M372.2 178.8h0M356.7 147.0h0M372.6 140.6h0M375.0 154.4h0M347.3 157.2h0M376.0 143.2h0M371.8 157.8h0M359.5 115.0h0M355.5 157.2h0M374.7 138.6h0M362.7 146.3h0M362.6 131.6h0M339.7 136.5h0M374.9 165.7h0M378.9 138.1h0M382.4 135.2h0M356.7 154.1h0M379.5 121.6h0" stroke="#555555" stroke-width="1.3" stroke-linecap="round" fill="none"/>
<path d="M378.5 127.8h0M371.1 134.3h0M367.6 133.0h0M384.6 145.8h0M393.8 152.0h0M395.1 137.4h0M391.4 138.5h0M389.1 111.0h0M389.8 151.9h0M392.9 137.6h0M369.8 141.7h0M377.6 160.6h0M398.1 149.9h0M390.8 147.7h0M385.4 116.3h0M401.3 127.2h0M356.3 109.4h0M355.9 134.2h0M374.1 135.1h0M352.2 120.1h0M386.1 116.4h0M374.0 162.7h0M358.9 154.3h0M378.3 140.9h0M374.6 135.1h0M405.5 143.2h0M354.5 129.4h0M386.3 140.3h0M396.9 115.6h0M374.7 138.5h0M373.1 145.0h0M369.8 153.8h0M383.5 133.4h0M391.8 133.7h0M360.0 131.8h0M387.4 162.7h0M392.1 117.1h0M366.1 123.5h0M375.5 152.8h0M394.6 127.8h0M386.6 149.6h0M363.8 139.9h0M388.5 141.3h0M375.3 148.3h0M364.9 132.9h0M357.7 141.2h0M380.5 142.6h0M376.8 141.2h0M377.3 156.8h0M373.1 153.8h0M364.7 151.7h0M350.9 140.9h0M379.2 169.4h0M355.9 126.2h0M398.5 158.9h0M372.5 128.4h0M388.0 132.6h0M381.7 151.7h0M368.7 144.7h0M365.3 143.0h0M380.4 112.0h0M374.2 104.0h0M373.8 134.0h0M377.4 126.7h0M363.4 146.1h0M364.2 125.1h0M382.1 150.8h0M382.1 160.9h0M360.5 120.1h0M361.8 138.7h0" stroke="#a9cfcf" stroke-width="1.3" stroke-linecap="round" fill="none"/>
<path d="M361.2 149.8h0M391.9 136.8h0M376.5 137.3h0M369.8 127.9h0M365.3 162.8h0M381.8 156.0h0M374.6 140.2h0M385.5 147.2h0M386.8 138.4h0M359.3 160.1h0M378.4 151.4h0M357.9 130.3h0M378.2 143.7h0M366.7 130.5h0M377.6 148.3h0M361.1 144.8h0M382.2 137.8h0M369.9 138.7h0M394.0 151.9h0M380.4 144.5h0M390.3 139.7h0M362.3 114.0h0M396.2 88.8h0M373.8 131.6h0M385.6 132.3h0M383.5 165.1h0M393.9 133.8h0M356.6 146.8h0M379.3 158.6h0M379.5 126.9h0M387.7 146.5h0M369.1 154.3h0M379.2 152.1h0M374.1 120.1h0M379.0 143.2h0M358.0 122.0h0M377.1 158.1h0M384.7 127.1h0M392.2 132.4h0M380.0 127.0h0M386.7 147.5h0M346.2 153.1h0M417.8 121.6h0M370.6 146.9h0M388.3 106.9h0M379.9 123.2h0M371.4 154.6h0M362.8 126.5h0M368.3 141.8h0M357.4 147.6h0M366.3 130.0h0M368.6 148.9h0M375.6 138.9h0M393.3 147.4h0M345.6 159.0h0M346.7 138.6h0M379.8 144.5h0M381.1 136.6h0M379.3 149.7h0M361.1 136.0h0M355.5 138.7h0M389.2 138.3h0M403.6 157.4h0M364.6 144.9h0M389.3 126.4h0M380.8 141.2h0M358.1 115.3h0M395.9 153.3h0M385.0 144.0h0M367.2 157.3h0M373.1 131.0h0M370.5 143.2h0M377.6 129.5h0M369.8 122.4h0M368.6 103.8h0M366.3 124.0h0M384.9 159.7h0M370.0 137.0h0M373.5 150.5h0M393.8 125.9h0M364.3 142.4h0M363.0 161.5h0M361.6 146.6h0M323.1 153.6h0M351.4 145.2h0M341.1 132.9h0M345.7 146.4h0M384.8 132.5h0M371.5 154.4h0" stroke="#a8a8a8" stroke-width="1.3" stroke-linecap="round" fill="none"/>
<path d="M404.4 154.2h0M355.4 133.4h0M335.4 110.0h0M363.6 128.9h0M393.4 130.7h0M380.2 151.9h0M360.6 157.2h0M367.2 134.8h0M386.6 78.9h0M369.4 148.8h0M383.5 145.4h0M343.7 155.1h0M364.7 138.0h0M353.3 138.2h0M373.0 142.3h0M351.2 146.7h0M388.8 160.7h0M368.7 165.3h0M371.5 147.5h0M390.4 150.0h0M393.6 156.9h0M381.4 155.7h0M356.7 167.6h0M401.5 140.3h0M372.5 151.2h0M380.5 134.4h0M344.0 160.4h0M381.3 152.9h0M387.3 144.2h0M391.4 143.7h0M383.2 134.8h0M392.0 137.6h0M373.6 150.8h0M368.2 131.0h0M373.9 114.2h0M369.9 131.5h0M374.4 153.9h0M384.9 118.8h0M368.7 161.9h0M352.9 124.0h0M331.5 119.4h0M372.8 112.0h0M397.5 135.8h0M375.4 164.3h0M375.1 149.1h0M369.9 124.2h0M401.0 154.0h0M346.2 142.9h0M370.2 140.9h0M369.2 123.8h0M371.2 151.5h0M360.0 156.5h0M396.8 143.9h0M397.0 139.2h0M366.7 139.7h0M386.1 144.7h0M360.8 146.6h0M366.1 156.9h0M358.2 161.1h0M345.3 141.5h0M370.0 147.8h0M397.5 158.6h0M366.8 120.7h0M379.0 146.6h0M368.2 119.1h0M383.7 144.4h0M363.7 137.3h0M397.8 140.6h0M363.6 176.5h0M343.9 140.8h0M384.3 123.9h0M358.7 138.5h0M371.4 148.2h0M376.1 118.8h0M378.6 142.0h0M386.2 142.3h0M387.8 123.6h0M349.1 128.5h0M351.2 131.2h0M379.4 155.8h0M377.3 135.5h0M402.7 158.2h0M358.5 142.2h0M374.6 121.8h0M387.7 131.6h0M421.4 148.4h0M406.3 113.7h0M380.2 107.1h0M369.8 136.1h0M383.8 156.4h0M379.5 155.0h0M381.4 155.1h0M371.0 166.0h0" stroke="#a8a8a8" stroke-width="1.3" stroke-linecap="round" fill="none"/>
<path d="M406.1 134.7h0M375.1 151.6h0M409.5 153.3h0M367.6 160.4h0M368.4 137.8h0M361.3 118.7h0M365.4 165.0h0M392.5 120.9h0M378.3 121.2h0M357.8 147.5h0M373.7 149.5h0M375.6 156.5h0M346.2 136.6h0M401.8 131.0h0M349.5 134.2h0M360.0 158.4h0M371.0 148.0h0M423.3 144.1h0M332.8 165.8h0M382.6 117.8h0M346.5 153.2h0M381.1 164.7h0M390.5 130.4h0M369.2 150.9h0M391.8 131.0h0M374.0 156.1h0M400.2 123.2h0M384.1 137.5h0M389.3 153.4h0M372.3 144.9h0M359.8 148.9h0M376.4 148.7h0M359.5 148.4h0M382.8 126.7h0M357.8 112.4h0M372.2 152.1h0M381.0 147.3h0M370.3 147.6h0M371.2 134.9h0M381.9 134.1h0M384.8 128.6h0M350.1 177.6h0M388.4 147.3h0M362.1 140.9h0M378.4 125.4h0M372.6 154.0h0M371.9 133.3h0M369.2 166.0h0M376.9 149.4h0M364.4 142.5h0M392.8 152.2h0M391.2 147.0h0M377.3 150.4h0M361.4 171.2h0M370.6 101.3h0M359.9 119.5h0M375.2 159.8h0M368.6 154.1h0M383.2 124.7h0M358.0 136.0h0M382.3 148.7h0M357.5 136.1h0M362.3 145.5h0M377.0 155.7h0M400.9 155.7h0M384.2 128.2h0M353.9 142.2h0M345.9 126.7h0M381.4 140.5h0M387.6 150.1h0M348.7 121.4h0M369.8 160.5h0" stroke="#a9cfcf" stroke-width="1.3" stroke-linecap="round" fill="none"/>
<path d="M375.0 151.7h0M365.0 143.7h0M368.7 144.3h0M343.4 138.7h0M373.2 135.7h0M372.7 161.9h0M372.0 154.2h0M370.0 157.7h0M368.0 155.1h0M367.1 141.6h0M359.2 131.7h0M373.9 137.5h0M356.3 140.7h0M369.2 117.7h0M373.2 130.5h0M367.2 146.1h0M375.3 138.9h0M344.2 156.0h0M372.4 152.3h0M364.9 139.8h0M343.8 176.8h0M357.1 130.0h0M356.9 118.8h0M364.2 135.7h0M359.3 141.1h0M379.3 151.1h0M370.4 135.2h0M376.8 165.0h0M379.2 162.7h0M377.1 135.5h0M368.4 134.1h0M382.1 149.7h0M367.1 140.9h0M371.9 151.4h0M340.1 149.6h0M373.7 157.6h0M366.0 129.2h0M377.1 142.4h0M355.3 142.4h0M366.0 141.6h0M362.6 129.8h0M386.3 176.1h0M374.8 129.4h0M387.4 151.8h0M367.0 135.4h0M352.3 135.8h0M370.7 146.2h0M373.6 182.2h0M337.3 144.0h0M374.4 121.3h0M364.9 126.4h0M361.8 129.9h0M372.3 129.5h0M379.5 118.5h0M353.6 163.8h0M356.5 131.4h0M377.3 136.5h0M377.4 145.1h0M371.5 140.3h0M359.8 134.5h0M363.8 134.8h0M367.6 140.0h0M373.8 164.5h0M370.6 125.4h0M353.0 147.1h0M361.4 168.1h0M381.0 142.8h0M373.3 157.8h0M378.6 151.1h0M375.4 143.2h0M361.5 161.0h0M369.4 132.7h0M379.8 146.2h0M370.5 161.1h0M373.0 142.4h0M346.2 172.6h0M369.0 166.2h0M367.7 144.2h0M343.1 136.3h0M362.9 156.6h0M368.7 134.6h0M380.8 141.6h0M362.7 147.7h0M378.0 147.6h0M316.4 110.6h0M374.3 142.5h0M353.9 135.1h0M372.4 127.2h0M361.4 131.6h0M366.1 142.8h0" stroke="#555555" stroke-width="1.3" stroke-linecap="round" fill="none"/>
<path d="M407.5 136.0h0M399.2 145.2h0M379.1 151.5h0M404.8 138.4h0M383.6 158.6h0M406.8 119.0h0M386.3 129.2h0M364.0 146.8h0M373.2 145.1h0M369.8 143.6h0M378.9 135.2h0M369.7 153.0h0M377.4 136.7h0M390.6 143.8h0M367.4 125.4h0M375.7 132.6h0M388.0 124.7h0M378.9 146.1h0M377.5 162.8h0M365.6 121.4h0M351.7 150.7h0M365.7 104.0h0M388.2 134.6h0M394.2 124.4h0M367.0 142.2h0M376.5 146.0h0M382.1 143.8h0M390.6 116.8h0M381.1 142.5h0M398.2 137.0h0M373.2 125.0h0M372.4 140.9h0M374.2 133.3h0M370.7 135.0h0M400.0 116.5h0M388.1 122.5h0M370.3 135.1h0M383.5 159.3h0M409.6 141.3h0M376.1 156.1h0M405.4 102.9h0M391.7 138.1h0M411.0 154.3h0M405.5 122.6h0M396.1 160.3h0M375.0 114.8h0M389.5 162.6h0M369.0 140.8h0M395.5 125.5h0M393.6 148.2h0M371.3 128.0h0M381.1 138.1h0M392.1 150.9h0M406.9 121.2h0M389.4 149.7h0M377.0 131.8h0M380.7 124.0h0M375.8 151.6h0M380.0 149.8h0M377.8 123.0h0M397.7 138.7h0M387.7 154.3h0M387.5 130.2h0M377.5 152.6h0M393.0 170.8h0M380.9 143.6h0M380.2 141.1h0M396.5 137.2h0M380.3 130.0h0M379.4 162.5h0M381.6 137.7h0M377.6 121.6h0M405.6 162.4h0M383.1 145.3h0M377.2 136.1h0M380.0 138.4h0M398.2 164.3h0M407.6 107.2h0M376.7 140.7h0M368.8 124.6h0M389.3 143.3h0M389.8 179.6h0M406.6 141.8h0M384.5 146.0h0M390.6 137.5h0M396.0 134.5h0M386.6 122.2h0M386.7 152.3h0M385.5 142.2h0M392.8 162.3h0M361.0 76.9h0M412.6 126.9h0M374.5 152.2h0M396.5 138.9h0M369.7 128.7h0M384.5 144.5h0M367.8 150.2h0M387.2 127.1h0M385.9 141.1h0M389.5 164.9h0M391.4 133.3h0M392.7 141.7h0M387.5 132.8h0M381.0 132.9h0M385.7 137.5h0" stroke="#b5303c" stroke-width="1.3" stroke-linecap="round" fill="none"/>
<path d="M357.1 162.8h0M371.3 174.4h0M373.3 143.9h0M336.1 145.3h0M384.3 145.5h0M366.0 129.9h0M358.4 127.0h0M384.9 129.6h0M357.4 144.7h0M370.6 170.1h0M381.9 152.6h0M360.3 113.4h0M374.7 135.0h0M374.7 126.8h0M366.3 163.5h0M335.6 158.6h0M363.1 149.8h0M366.5 149.9h0M350.0 145.7h0M370.6 134.2h0M361.2 151.0h0M375.9 131.4h0M357.3 151.9h0M341.6 140.5h0M363.3 145.6h0M362.4 137.5h0M351.8 165.0h0M389.7 161.9h0M372.2 158.9h0M343.0 164.2h0M366.3 140.1h0M350.7 175.9h0M363.8 121.6h0M314.9 135.0h0M381.2 173.3h0M349.8 152.5h0M356.1 170.1h0M365.3 135.1h0M342.8 129.7h0M372.5 148.1h0M370.0 132.2h0M366.7 133.3h0M373.9 127.6h0M379.4 132.5h0M330.2 131.4h0M376.7 130.5h0M356.3 133.1h0M375.4 163.6h0M352.5 169.0h0M351.5 144.3h0M311.4 158.5h0M366.3 145.9h0M379.4 143.5h0M376.9 142.1h0M369.8 139.5h0M377.0 151.1h0M375.6 124.9h0M371.4 136.2h0M371.9 159.0h0M372.0 135.9h0M369.3 146.3h0M378.8 158.5h0M330.2 139.8h0M365.2 132.2h0M356.1 137.3h0M373.6 161.2h0M356.0 161.2h0M357.7 151.0h0M382.3 131.5h0M363.9 131.5h0M363.3 156.0h0M368.9 125.9h0M366.7 141.3h0M344.0 140.6h0M360.1 112.3h0M347.4 121.7h0M372.6 161.6h0M342.3 173.6h0M367.0 137.3h0M386.5 174.3h0M365.8 158.5h0M357.1 139.8h0M358.8 107.7h0M361.7 156.6h0M378.2 149.0h0M357.1 131.5h0M370.8 118.1h0M348.9 150.2h0M354.5 127.4h0M358.6 153.0h0M357.4 129.1h0M385.9 164.3h0M363.6 129.0h0M373.6 187.0h0" stroke="#555555" stroke-width="1.3" stroke-linecap="round" fill="none"/>
<path d="M381.0 134.8h0M388.8 131.2h0M363.8 133.4h0M373.8 132.1h0M383.3 139.4h0M368.6 146.5h0M369.0 150.3h0M352.1 135.7h0M380.2 122.9h0M379.4 142.1h0M349.2 152.0h0M349.6 159.4h0M369.0 130.5h0M379.1 156.3h0M369.6 134.2h0M362.3 139.5h0M356.4 133.6h0M380.5 133.5h0M394.0 135.0h0M341.3 163.7h0M362.9 156.6h0M384.7 121.2h0M373.5 136.7h0M364.9 154.9h0M367.5 140.2h0M353.8 148.5h0M341.7 124.5h0M359.5 144.6h0M368.9 139.2h0M398.4 143.3h0M383.3 159.3h0M372.3 129.8h0M376.4 141.8h0M365.3 138.7h0M391.8 141.5h0M398.1 134.1h0M390.6 121.4h0M373.9 132.6h0M352.2 158.8h0M389.9 146.4h0M401.7 107.7h0M377.0 139.7h0M386.3 145.8h0M379.0 116.6h0M362.5 145.4h0M372.7 139.0h0M380.1 126.9h0M387.2 100.5h0M364.9 144.3h0M357.4 130.3h0M364.7 155.1h0M377.6 145.1h0M363.1 146.5h0M339.3 132.4h0M377.2 150.5h0M384.9 160.6h0M393.3 115.5h0M339.3 122.6h0M345.3 137.1h0M386.8 127.4h0M345.1 131.0h0M383.3 141.3h0M369.0 157.7h0M356.4 142.5h0M400.8 135.6h0M371.8 137.2h0M379.7 147.3h0M360.2 134.7h0M393.9 111.3h0M378.8 161.3h0M373.7 107.8h0M364.6 149.1h0M367.4 134.1h0" stroke="#a9cfcf" stroke-width="1.3" stroke-linecap="round" fill="none"/>
<path d="M392.9 130.5h0M385.0 138.8h0M375.5 136.2h0M389.0 107.6h0M381.2 155.9h0M377.5 151.2h0M377.9 118.5h0M392.6 159.9h0M385.4 140.3h0M384.0 133.5h0M395.3 132.3h0M420.9 183.7h0M380.0 160.0h0M382.0 139.9h0M389.6 130.6h0M396.5 158.4h0M371.8 155.6h0M378.9 141.7h0M383.6 163.0h0M378.6 154.9h0M389.0 137.3h0M380.1 151.2h0M372.8 138.3h0M396.0 146.2h0M392.1 156.2h0M368.0 125.4h0M364.9 136.5h0M388.2 143.6h0M374.7 159.9h0M395.3 141.5h0M406.0 130.7h0M391.1 147.2h0M373.9 145.2h0M379.6 150.6h0M383.3 135.9h0M381.4 153.3h0M388.9 165.8h0M376.9 137.7h0M391.4 122.1h0M377.9 126.2h0M407.3 142.1h0M375.1 152.4h0M377.1 137.6h0M376.9 126.4h0M386.7 135.8h0M392.2 145.5h0M390.5 135.5h0M372.4 115.7h0M363.7 128.6h0M367.1 126.6h0M394.1 142.2h0M385.1 126.0h0M374.6 145.2h0M386.4 158.0h0M384.8 127.8h0M371.5 156.2h0M398.8 173.7h0M403.0 147.4h0M430.4 119.0h0M359.4 150.8h0M390.5 142.5h0M385.0 143.7h0M372.7 120.8h0M389.8 154.6h0M359.3 123.1h0M390.1 135.9h0M376.5 146.6h0M399.3 138.0h0M385.6 130.2h0M384.6 134.1h0M389.3 138.6h0M373.9 145.4h0M369.7 128.2h0M358.0 144.6h0M393.7 107.7h0M369.5 134.0h0M399.4 126.5h0M388.2 153.3h0M382.3 146.7h0M375.1 141.3h0M387.5 150.8h0M395.6 148.6h0M390.8 148.6h0M383.3 151.9h0M368.1 132.4h0M400.3 131.0h0M372.1 133.5h0M383.7 143.2h0M403.5 129.3h0M376.0 128.7h0M376.3 115.1h0M371.5 152.6h0M374.2 150.7h0M386.4 125.2h0M374.4 142.0h0M384.9 131.3h0M380.6 142.5h0M374.4 121.0h0M380.9 155.6h0M402.5 133.6h0M387.9 117.3h0" stroke="#b5303c" stroke-width="1.3" stroke-linecap="round" fill="none"/>
<path d="M353.2 156.0h0M376.7 143.7h0M369.5 100.4h0M371.1 142.6h0M386.1 154.5h0M400.3 146.9h0M374.3 145.4h0M371.3 160.8h0M369.5 121.5h0M362.1 151.6h0M379.1 142.3h0M365.9 123.7h0M403.5 181.7h0M361.0 121.4h0M387.9 107.2h0M387.0 115.2h0M384.4 150.0h0M366.8 148.5h0M403.0 184.6h0M361.6 130.9h0M375.6 145.2h0M384.2 131.7h0M389.3 163.5h0M373.8 150.1h0M371.4 130.9h0M389.9 134.2h0M396.1 136.7h0M394.0 127.0h0M383.7 144.5h0M387.1 121.1h0M380.1 173.2h0M350.5 176.4h0M383.4 176.9h0M380.0 168.8h0M381.5 119.2h0M382.1 170.5h0M369.8 151.9h0M381.5 140.8h0M370.2 136.7h0M366.2 140.2h0M374.9 144.5h0M341.3 185.6h0M384.4 141.7h0M362.7 141.8h0M348.4 127.6h0M381.4 146.4h0M372.6 153.9h0M348.0 142.0h0M370.9 99.7h0M384.7 124.7h0M410.2 167.6h0M371.5 152.4h0M388.3 138.4h0M363.0 128.5h0M375.4 153.0h0M348.3 126.5h0M367.3 118.1h0M374.2 138.0h0M389.3 141.5h0M380.0 162.4h0M375.0 136.1h0M360.6 124.8h0M347.5 147.8h0M358.3 141.9h0M395.8 146.3h0M389.8 132.5h0M371.0 118.1h0M364.9 138.1h0M364.1 136.1h0M353.2 130.1h0M382.2 131.4h0M371.0 132.7h0M365.3 128.3h0M374.6 125.4h0M377.9 143.2h0M369.9 152.0h0M372.2 134.1h0M376.1 121.0h0M370.4 130.2h0M381.9 151.1h0M369.2 145.3h0M353.8 122.5h0M370.8 153.8h0M358.5 133.7h0M376.7 147.1h0M370.0 119.0h0M346.6 126.8h0M366.5 166.9h0M352.1 122.1h0M365.6 146.0h0M396.9 142.7h0" stroke="#a8a8a8" stroke-width="1.3" stroke-linecap="round" fill="none"/>
<path d="M373.2 143.8h0M372.3 111.9h0M380.5 146.2h0M384.2 154.4h0M379.7 151.4h0M375.1 129.7h0M375.4 130.8h0M370.7 138.7h0M376.0 150.7h0M362.0 132.5h0M376.8 117.6h0M344.9 124.3h0M365.5 157.0h0M377.5 159.9h0M361.8 130.7h0M377.9 151.0h0M367.8 130.0h0M383.4 185.9h0M363.6 132.2h0M375.3 142.5h0M381.4 186.4h0M384.1 158.3h0M357.9 138.7h0M374.8 126.9h0M366.7 161.5h0M333.6 133.3h0M369.6 151.6h0M371.9 159.3h0M367.1 105.8h0M356.5 158.4h0M366.1 155.4h0M381.0 162.8h0M356.3 160.8h0M378.5 130.3h0M355.3 141.2h0M346.5 136.7h0M367.7 157.3h0M373.8 145.2h0M363.6 154.4h0M380.7 131.5h0M352.9 150.5h0M371.7 180.9h0M358.3 152.7h0M351.9 150.6h0M372.1 137.0h0M376.7 171.6h0M371.1 135.4h0M361.4 132.1h0M363.7 141.4h0M366.9 170.8h0M349.8 155.4h0M362.3 148.8h0M365.6 141.5h0M352.1 150.5h0M374.6 130.6h0M362.3 141.4h0M320.4 124.4h0M349.8 140.7h0M363.8 161.5h0M369.3 154.8h0M344.6 140.9h0M389.6 160.4h0M349.3 135.2h0M343.8 143.4h0M363.0 146.6h0M376.0 140.5h0M355.8 189.7h0M381.3 148.3h0M382.1 143.8h0M357.6 129.8h0M364.1 164.7h0M391.3 141.5h0M357.6 148.3h0M358.3 118.4h0M361.7 126.6h0M374.4 140.9h0M358.5 132.2h0M369.3 124.7h0M366.5 158.7h0M330.3 148.7h0M382.1 183.7h0M352.9 165.9h0M376.0 123.9h0M377.5 129.8h0M370.2 174.3h0M375.3 129.9h0M359.5 155.2h0M368.5 144.7h0M376.4 149.2h0M354.1 107.5h0M368.0 137.1h0M372.0 154.9h0M337.6 126.0h0" stroke="#555555" stroke-width="1.3" stroke-linecap="round" fill="none"/>
<path d="M381.7 130.6h0M341.5 138.5h0M370.2 152.5h0M381.0 140.4h0M371.0 114.5h0M377.9 145.0h0M370.8 127.9h0M371.4 142.1h0M376.1 141.2h0M363.7 149.8h0M374.2 144.7h0M383.6 143.3h0M377.2 123.6h0M378.9 148.0h0M390.0 163.3h0M384.8 147.2h0M369.5 137.7h0M352.3 138.0h0M383.0 147.7h0M382.7 134.2h0M366.0 146.3h0M380.4 166.6h0M385.4 124.1h0M385.0 150.0h0M372.1 131.5h0M408.7 146.6h0M369.6 137.5h0M376.5 134.3h0M391.8 148.2h0M379.6 149.1h0M343.6 142.0h0M373.3 141.5h0M388.8 125.1h0M394.5 144.5h0M374.2 146.4h0M378.9 133.9h0M381.7 136.9h0M382.2 173.5h0M373.5 148.7h0M392.9 143.2h0M389.0 123.0h0M380.4 131.0h0M381.6 130.0h0M338.5 139.9h0M368.1 130.4h0M368.1 141.3h0M357.9 168.9h0M393.5 111.0h0M367.0 137.6h0M344.4 149.8h0M381.1 149.4h0M369.6 124.7h0M395.6 116.5h0M387.0 136.5h0M385.4 160.0h0M389.1 131.5h0M364.8 133.1h0M376.0 139.3h0M370.2 136.4h0M352.3 145.5h0M380.3 130.2h0M380.2 112.0h0M355.0 138.8h0M360.0 161.3h0M364.5 152.9h0M377.7 160.6h0M379.1 160.9h0M392.5 134.8h0M381.8 118.0h0M363.4 147.3h0M398.1 140.7h0M358.2 131.8h0M352.1 115.1h0M370.1 158.6h0M409.4 147.0h0M384.6 139.3h0M391.6 130.1h0M384.2 112.1h0M350.0 132.8h0M359.5 149.1h0M362.8 137.9h0M395.7 140.0h0M367.6 137.7h0M384.3 140.6h0M387.8 159.6h0M376.4 143.7h0M384.8 149.1h0M384.2 146.0h0M378.4 136.4h0M379.4 159.1h0M384.8 158.2h0M386.6 129.9h0M374.8 147.1h0M394.3 148.0h0M374.6 157.6h0M345.8 135.9h0M388.0 140.4h0M371.1 126.5h0M367.3 145.3h0M379.9 134.3h0M374.2 161.2h0M361.2 114.5h0M384.9 158.0h0" stroke="#a8a8a8" stroke-width="1.3" stroke-linecap="round" fill="none"/>
<path d="M381.2 143.8h0M366.1 106.6h0M363.0 138.3h0M367.9 122.9h0M402.2 149.1h0M370.8 145.2h0M356.9 170.3h0M377.7 119.6h0M364.7 137.8h0M363.9 142.4h0M390.3 172.8h0M370.0 132.4h0M372.1 152.0h0M374.3 142.6h0M354.5 144.1h0M382.3 144.5h0M401.1 137.2h0M374.0 167.3h0M378.7 144.5h0M384.2 126.1h0M393.9 122.7h0M375.2 139.9h0M369.6 147.4h0M385.1 119.7h0M359.6 154.1h0M401.4 160.7h0M354.7 147.7h0M381.5 140.5h0M385.2 152.4h0M366.0 138.9h0M359.3 132.2h0M348.5 146.2h0M361.6 118.0h0M393.2 129.0h0M362.6 118.4h0M346.0 111.6h0M351.4 152.7h0M392.6 130.4h0M347.3 136.2h0M379.7 133.4h0M400.3 137.5h0M340.5 129.7h0M375.6 141.8h0M355.8 136.5h0M361.5 140.8h0M365.0 146.3h0M380.3 145.3h0M381.2 138.5h0M378.7 153.8h0M381.4 140.3h0M380.8 154.0h0M367.9 132.0h0M333.3 138.0h0M352.8 148.7h0M384.4 166.9h0M390.2 154.4h0M380.5 151.0h0M372.2 149.3h0M366.6 148.3h0M376.6 142.9h0" stroke="#a9cfcf" stroke-width="1.3" stroke-linecap="round" fill="none"/>
<path d="M384.7 150.7h0M380.9 141.3h0M380.4 145.8h0M389.5 139.6h0M361.6 146.7h0M394.5 116.9h0M372.7 121.0h0M368.7 139.6h0M372.1 137.6h0M394.8 151.0h0M371.8 115.0h0M378.6 150.5h0M359.1 89.6h0M404.2 149.6h0M387.9 154.8h0M385.3 133.5h0M384.1 142.5h0M379.5 131.7h0M400.1 136.4h0M410.4 156.1h0M376.2 132.8h0M393.1 131.2h0M397.3 132.5h0M375.5 132.4h0M363.8 136.3h0M392.4 145.8h0M395.5 157.9h0M345.7 113.5h0M383.8 136.1h0M375.3 157.2h0M397.8 143.3h0M390.9 135.9h0M378.4 129.5h0M371.0 151.6h0M394.2 159.6h0M364.4 145.7h0M369.6 135.8h0M373.7 144.0h0M391.1 143.2h0M407.9 174.0h0M380.2 130.8h0M378.7 133.6h0M383.5 167.0h0M368.4 139.8h0M384.1 150.3h0M400.3 124.0h0M395.6 148.4h0M370.3 119.3h0M389.4 142.0h0M390.3 143.8h0M372.0 141.4h0M379.7 132.5h0M399.0 146.5h0M388.9 105.9h0M384.8 148.8h0M390.9 124.6h0M373.9 131.4h0M385.1 137.5h0M409.1 134.3h0M370.5 143.4h0M381.4 136.9h0M379.2 148.0h0M360.5 132.0h0M410.1 109.8h0M384.2 137.8h0M400.8 133.5h0M400.1 120.4h0M389.5 144.3h0M410.2 168.3h0M389.4 136.2h0M370.8 142.2h0M395.3 90.7h0M397.4 170.3h0M381.6 144.0h0M386.8 129.7h0M384.5 132.6h0M369.1 142.8h0M371.6 128.8h0M402.1 161.3h0M394.7 130.1h0M375.0 151.7h0M376.5 131.8h0M379.8 135.1h0M366.1 128.0h0M384.5 141.1h0M390.2 165.9h0M383.3 113.3h0M344.7 134.0h0M391.0 164.0h0M362.0 142.8h0M368.6 151.9h0M380.5 127.8h0M382.8 139.1h0M394.4 146.9h0M400.6 164.3h0M391.2 122.3h0M387.4 154.1h0M378.4 141.3h0M406.8 144.6h0M393.1 163.6h0M379.9 138.9h0M387.8 156.3h0M395.9 141.8h0M362.3 99.4h0" stroke="#b5303c" stroke-width="1.3" stroke-linecap="round" fill="none"/>
<path d="M381.8 130.2h0M357.2 136.6h0M368.6 123.8h0M344.3 130.8h0M383.8 143.8h0M399.8 152.5h0M376.1 143.5h0M327.4 107.6h0M380.5 127.8h0M400.5 131.4h0M399.4 144.3h0M377.7 128.9h0M367.3 140.0h0M361.9 129.8h0M377.2 143.2h0M378.8 104.4h0M353.6 154.1h0M386.0 126.3h0M391.2 130.8h0M380.3 145.2h0M357.6 161.6h0M374.4 180.6h0M381.2 140.3h0M391.8 122.0h0M359.8 134.6h0M364.3 135.7h0M390.4 144.0h0M356.0 124.7h0M384.9 143.3h0M355.9 133.7h0M377.4 156.6h0M393.9 131.9h0M378.7 120.5h0M364.0 122.7h0M412.4 132.4h0M366.6 170.0h0M398.6 135.6h0M366.3 160.4h0M372.6 149.9h0M367.5 129.6h0M370.4 134.7h0M368.6 136.4h0M340.5 130.4h0M363.2 127.5h0M376.7 136.2h0M370.9 156.1h0M374.6 136.3h0M381.8 151.4h0M395.9 157.6h0M381.7 164.8h0M383.5 170.4h0M340.8 136.0h0M396.7 121.9h0M370.9 129.4h0M378.3 149.6h0M372.8 129.2h0M386.1 159.3h0M368.1 131.4h0M386.3 135.0h0M373.2 139.9h0M375.2 119.3h0M407.4 167.4h0M367.5 143.9h0M376.0 159.2h0M366.4 146.6h0M385.8 165.2h0M407.9 149.9h0M372.2 123.3h0M385.1 130.7h0M375.0 127.7h0M345.1 135.3h0M350.3 147.2h0M374.6 165.3h0M367.1 136.5h0M366.0 142.2h0M398.4 130.7h0M365.5 126.6h0M376.9 129.7h0M380.9 132.0h0M384.2 143.3h0M376.1 125.4h0M372.7 136.4h0M361.2 143.6h0M377.8 144.0h0M377.6 135.2h0M370.0 117.4h0M345.4 141.5h0M379.7 158.0h0M372.3 141.7h0M382.1 150.5h0M380.2 128.2h0" stroke="#a9cfcf" stroke-width="1.3" stroke-linecap="round" fill="none"/>
<path d="M371.2 151.4h0M366.9 119.6h0M364.6 148.5h0M362.7 146.2h0M374.7 151.4h0M370.1 107.2h0M344.7 150.7h0M372.3 140.4h0M369.9 124.3h0M361.9 158.0h0M370.9 108.8h0M374.8 173.1h0M350.1 126.2h0M378.5 154.5h0M356.6 140.1h0M356.1 156.6h0M373.9 167.2h0M367.7 137.5h0M360.9 132.0h0M369.4 126.3h0M365.4 162.0h0M379.5 152.9h0M366.5 145.0h0M377.6 155.0h0M377.6 129.3h0M364.5 157.8h0M382.7 155.9h0M359.9 134.6h0M374.2 144.0h0M374.2 153.9h0M353.5 135.6h0M378.0 152.1h0M340.5 141.3h0M358.7 131.2h0M357.6 149.6h0M375.1 124.8h0M360.5 155.3h0M370.5 146.3h0M373.0 148.6h0M374.7 140.1h0M379.8 133.7h0M350.1 136.1h0M371.3 140.5h0M364.5 141.6h0M350.0 159.4h0M372.2 150.1h0M367.4 149.2h0M377.3 149.0h0M365.2 121.8h0M355.6 145.1h0M357.5 151.8h0M362.1 146.0h0M371.4 144.0h0M369.4 130.7h0M365.9 141.6h0M364.0 142.3h0M350.5 149.9h0M370.4 124.7h0M344.0 127.7h0M372.6 135.5h0M370.6 142.6h0M375.8 141.7h0M336.5 124.1h0M341.2 146.5h0M348.6 141.1h0M361.7 121.2h0M354.9 164.9h0M351.5 149.3h0M375.4 137.3h0M349.4 114.8h0M374.0 166.0h0M359.8 143.4h0M368.5 164.3h0M372.3 140.0h0M360.5 127.0h0M365.2 117.8h0M369.8 143.1h0M371.6 137.8h0M359.3 152.8h0M366.7 153.9h0M374.4 161.0h0M329.5 138.6h0" stroke="#555555" stroke-width="1.3" stroke-linecap="round" fill="none"/>
<path d="M388.9 149.4h0M384.0 159.6h0M350.9 123.0h0M369.9 155.8h0M368.8 148.3h0M359.9 150.6h0M366.5 135.8h0M373.1 136.5h0M370.0 130.8h0M371.1 133.7h0M413.0 160.3h0M364.3 134.4h0M363.4 138.0h0M372.3 145.5h0M384.2 127.6h0M366.2 136.3h0M364.6 150.5h0M394.2 130.3h0M400.6 139.9h0M355.9 152.6h0M376.2 147.7h0M388.7 106.7h0M389.3 130.0h0M344.0 154.2h0M381.1 146.5h0M394.0 139.7h0M345.1 126.5h0M377.6 149.4h0M380.6 154.8h0M378.1 122.3h0M366.5 121.9h0M386.7 130.6h0M374.4 146.1h0M352.5 131.9h0M378.9 132.4h0M368.3 165.3h0M392.6 175.4h0M359.5 138.7h0M376.6 154.7h0M368.5 152.7h0M359.0 128.1h0M377.0 145.8h0M375.4 141.5h0M373.9 119.2h0M388.5 128.8h0M359.8 161.4h0M369.2 114.5h0M377.3 160.5h0M373.8 115.9h0M370.1 157.5h0M386.7 132.1h0M367.6 115.0h0M369.8 140.7h0M380.5 152.2h0M376.2 147.2h0M364.1 145.1h0M377.9 129.1h0M386.7 148.9h0M377.2 147.7h0M364.2 108.1h0M377.4 137.5h0M375.1 136.6h0M375.3 149.7h0M401.7 117.4h0M375.8 126.2h0M402.6 147.1h0M384.5 127.5h0M363.4 155.7h0M344.5 130.2h0M347.7 132.9h0M375.2 140.4h0M378.9 142.0h0M382.3 142.2h0M386.9 157.7h0M359.0 160.6h0M378.3 138.1h0M394.0 123.7h0M378.1 149.4h0M388.4 137.6h0M421.0 160.5h0M391.0 154.3h0M352.3 125.8h0M394.8 136.1h0" stroke="#a8a8a8" stroke-width="1.3" stroke-linecap="round" fill="none"/>
<path d="M396.2 127.6h0M377.2 119.1h0M406.5 152.9h0M395.8 123.2h0M401.1 123.5h0M379.9 128.4h0M393.3 165.1h0M387.1 134.6h0M392.9 145.6h0M380.2 115.9h0M373.6 157.5h0M379.2 139.5h0M386.9 149.8h0M379.6 117.9h0M366.7 130.7h0M397.7 142.2h0M376.5 142.4h0M384.2 145.3h0M382.3 143.3h0M375.9 135.7h0M390.5 134.5h0M367.0 140.4h0M374.8 149.1h0M392.3 143.6h0M364.5 104.7h0M372.4 131.0h0M375.6 148.2h0M365.9 145.5h0M403.7 117.3h0M377.6 156.3h0M383.5 145.8h0M392.0 119.3h0M390.0 151.4h0M396.5 139.6h0M375.2 122.6h0M391.1 142.1h0M379.6 126.9h0M383.1 136.6h0M394.6 136.9h0M373.3 127.7h0M370.0 131.9h0M371.7 164.0h0M395.7 150.3h0M375.3 132.2h0M374.3 137.4h0M383.2 119.3h0M388.2 140.3h0M396.0 127.9h0M373.3 128.1h0M375.5 148.5h0M384.5 151.6h0M381.1 170.7h0M380.6 134.3h0M384.4 117.3h0M368.0 152.4h0M365.4 138.5h0M377.2 142.4h0M408.2 138.2h0M387.3 163.4h0M393.1 123.0h0M366.2 140.4h0M389.8 138.1h0M386.7 172.6h0M388.4 158.8h0M366.8 145.9h0M398.0 150.6h0M411.1 116.3h0M389.5 146.1h0M381.0 155.5h0M383.4 143.4h0M387.6 122.0h0M387.8 141.6h0M372.3 144.7h0M378.3 123.8h0M396.1 149.1h0M381.1 125.4h0M387.2 158.2h0M372.8 135.9h0M382.7 155.9h0M372.4 148.6h0M383.1 145.6h0M388.3 143.1h0M381.6 149.3h0M399.4 150.5h0M376.9 153.8h0M370.8 152.3h0M352.5 108.8h0M376.1 115.8h0M389.7 143.5h0M389.3 139.7h0M389.1 127.5h0M387.5 125.0h0M356.4 129.4h0M382.8 120.9h0M383.8 125.5h0M367.8 143.5h0M393.6 116.7h0M373.5 125.1h0M396.4 141.0h0M367.9 124.9h0M372.4 139.9h0M381.7 145.9h0M376.9 138.8h0M389.8 117.0h0" stroke="#b5303c" stroke-width="1.3" stroke-linecap="round" fill="none"/>
<path d="M388.2 136.4h0M374.8 143.1h0M359.9 154.3h0M368.4 132.7h0M370.0 139.4h0M372.4 134.3h0M372.4 149.6h0M373.4 120.2h0M364.5 142.2h0M369.4 135.8h0M370.3 148.1h0M373.3 145.3h0M380.3 137.1h0" stroke="#1a1212" stroke-width="1.6" stroke-linecap="round" fill="none"/>
<path d="M394.2 173.0h0M382.1 123.1h0M396.7 154.0h0M388.8 149.1h0M398.9 119.6h0M360.6 133.5h0M387.2 133.2h0M391.5 141.3h0" stroke="#a01a24" stroke-width="2" stroke-linecap="round" fill="none"/>
<path d="M376.1 150.0h0M369.1 143.1h0M366.6 146.0h0M377.5 142.3h0M367.0 152.9h0M377.2 148.8h0M372.8 149.8h0M367.7 139.8h0M377.8 142.2h0M382.4 140.6h0M371.3 133.9h0M369.9 142.3h0M366.6 141.6h0" stroke="#4fa2a6" stroke-width="2.2" stroke-linecap="round" fill="none"/>
<path d="M393.7 147.3h0M382.7 149.8h0M370.6 154.5h0M364.5 150.5h0M393.2 138.2h0M361.6 147.6h0M367.1 149.0h0M383.4 141.8h0M366.4 138.1h0M381.4 146.8h0M375.0 136.1h0M377.4 124.3h0M349.5 130.0h0M381.7 134.9h0M368.3 131.4h0M377.5 151.6h0M367.9 153.1h0M386.2 135.7h0M389.5 145.5h0M393.3 143.2h0" stroke="#b31a24" stroke-width="2.2" stroke-linecap="round" fill="none"/>
<path d="M370.6 123.5h0M403.9 162.4h0M404.9 122.7h0M371.4 147.1h0" stroke="#a01a24" stroke-width="2.4" stroke-linecap="round" fill="none"/>
<path d="M306.8 63.2h0M389.5 204.1h0M337.4 66.2h0M314.5 185.3h0M340.6 112.1h0" stroke="#3a3a3a" stroke-width="1.2" stroke-linecap="round" fill="none"/>
<path d="M350.0 84.1h0M333.0 85.8h0M309.7 58.0h0M322.4 88.5h0" stroke="#c8c8c8" stroke-width="1.2" stroke-linecap="round" fill="none"/>
<path d="M377.1 140.8h0M375.7 138.5h0M366.8 146.9h0M366.8 149.5h0M371.5 147.2h0M368.5 143.0h0M384.3 143.3h0" stroke="#4fa2a6" stroke-width="1.9" stroke-linecap="round" fill="none"/>
<path d="M366.5 122.6h0M357.2 133.3h0M390.2 123.9h0M373.4 129.8h0M372.5 138.1h0M390.5 148.2h0M377.6 142.7h0M385.4 132.8h0M387.1 139.0h0M365.8 153.2h0M381.9 131.7h0M373.2 143.3h0M377.0 125.2h0M383.1 148.6h0M374.0 145.7h0M375.9 132.3h0M377.6 141.8h0M370.3 155.1h0M379.1 151.2h0M395.5 152.6h0M361.5 149.8h0M384.5 159.7h0M377.3 149.1h0" stroke="#b31a24" stroke-width="2.4" stroke-linecap="round" fill="none"/>
<path d="M385.8 133.6h0M392.8 137.7h0M398.6 130.7h0" stroke="#1a1212" stroke-width="3.2" stroke-linecap="round" fill="none"/>
<path d="M424.6 149.7h0M388.7 90.3h0M426.7 120.5h0M400.5 106.0h0M414.6 132.3h0M409.8 67.1h0" stroke="#a01a24" stroke-width="2.2" stroke-linecap="round" fill="none"/>
<path d="M426.5 163.2h0M448.0 158.1h0M395.1 138.8h0M399.5 129.0h0M420.9 127.5h0M387.7 126.5h0M387.4 118.2h0M388.7 125.2h0M405.5 127.4h0M419.8 162.8h0M396.5 116.0h0M375.4 117.7h0" stroke="#a01a24" stroke-width="3.2" stroke-linecap="round" fill="none"/>
<path d="M370.2 152.2h0M388.9 143.5h0M385.1 144.0h0M382.7 138.4h0M372.9 140.1h0M369.3 143.7h0M367.6 147.7h0M370.8 156.3h0M374.1 150.0h0M364.3 132.9h0M371.0 136.7h0M368.2 151.0h0M364.8 135.1h0M385.3 142.5h0M352.1 135.5h0M374.8 136.0h0M372.9 141.7h0M379.7 143.3h0" stroke="#1a1212" stroke-width="1.9" stroke-linecap="round" fill="none"/>
<path d="M376.2 122.3h0M363.8 134.0h0M396.2 154.2h0M378.4 145.2h0M387.3 160.8h0M365.7 143.5h0M387.3 157.7h0M372.0 151.1h0M367.5 109.4h0M371.0 148.3h0M369.4 128.7h0M371.8 142.1h0M356.9 146.5h0M375.6 133.1h0M391.6 157.9h0M365.4 137.4h0" stroke="#b31a24" stroke-width="1.9" stroke-linecap="round" fill="none"/>
<path d="M376.2 148.4h0M369.3 139.0h0M376.5 150.7h0M380.7 147.9h0M359.3 147.7h0M370.7 141.3h0M380.3 151.1h0" stroke="#4fa2a6" stroke-width="1.6" stroke-linecap="round" fill="none"/>
<path d="M392.0 148.1h0M402.8 136.7h0M402.0 153.3h0" stroke="#1a1212" stroke-width="2.7" stroke-linecap="round" fill="none"/>
<path d="M380.7 148.1h0M366.4 168.2h0M364.6 149.7h0M366.2 143.6h0M370.5 148.9h0M378.0 138.4h0M358.3 145.7h0M383.8 160.2h0M359.4 136.0h0M367.0 133.2h0M363.0 190.0h0M369.8 142.4h0M385.0 145.8h0M342.4 143.3h0M397.9 147.6h0M373.8 145.4h0" stroke="#1a1212" stroke-width="2.2" stroke-linecap="round" fill="none"/>
<path d="M372.5 137.3h0M378.4 144.8h0M372.5 132.6h0M378.1 149.9h0M365.7 121.8h0M382.9 136.3h0M363.9 151.2h0M380.7 128.6h0M371.3 130.3h0M359.7 143.5h0M370.1 140.4h0M365.8 134.1h0M388.1 130.7h0M391.8 127.5h0M411.9 145.0h0M385.2 125.8h0" stroke="#1a1212" stroke-width="2.4" stroke-linecap="round" fill="none"/>
<path d="M360.0 144.5h0M394.7 159.5h0M417.4 131.6h0" stroke="#a01a24" stroke-width="2.7" stroke-linecap="round" fill="none"/>
<path d="M379.6 194.6h0M310.8 141.0h0M454.2 150.8h0" stroke="#8a8a8a" stroke-width="1.2" stroke-linecap="round" fill="none"/>
<path d="M367.8 138.4h0M370.7 139.1h0M370.6 149.6h0M371.1 146.2h0M370.1 145.6h0M379.8 158.7h0M369.9 146.5h0M365.2 136.3h0M363.8 142.5h0M388.2 139.1h0M365.5 146.1h0M375.3 155.6h0M365.7 133.6h0M378.3 134.6h0M383.3 144.7h0M367.6 162.2h0M374.2 141.0h0" stroke="#b31a24" stroke-width="1.6" stroke-linecap="round" fill="none"/>
<path d="M365.8 139.0h0M363.2 148.9h0M381.8 143.4h0M384.7 152.7h0M374.2 143.6h0M433.6 146.5h0M364.6 134.3h0M365.5 130.1h0M378.4 136.4h0M373.2 156.4h0M375.5 138.9h0M389.8 147.1h0M371.9 138.6h0M391.6 131.6h0M376.9 150.7h0M381.3 146.2h0M376.2 144.7h0" stroke="#1a1212" stroke-width="2.2" stroke-linecap="round" fill="none"/>
<path d="M365.6 138.8h0M369.7 138.3h0M374.2 171.2h0M371.5 139.3h0M368.9 139.3h0M370.4 138.9h0M378.7 143.4h0M363.9 147.8h0M375.4 145.9h0" stroke="#4fa2a6" stroke-width="2.2" stroke-linecap="round" fill="none"/>
<path d="M390.8 140.7h0M388.8 139.1h0M367.2 142.1h0M378.4 134.1h0M378.7 132.7h0M372.2 140.0h0M365.4 143.8h0M373.3 130.8h0M380.6 150.3h0M364.2 137.0h0M362.2 144.2h0M395.1 151.0h0M388.3 154.9h0M364.7 140.9h0M384.2 131.3h0M382.3 147.2h0M364.7 153.8h0M378.2 154.1h0M386.7 137.1h0M366.0 146.8h0M355.9 139.1h0M365.4 122.1h0M380.2 147.8h0M371.4 147.3h0M369.8 149.5h0M390.4 133.3h0" stroke="#b31a24" stroke-width="2.2" stroke-linecap="round" fill="none"/>
<path d="M369.2 149.1h0M368.8 159.8h0M367.6 154.7h0M368.0 138.1h0" stroke="#4fa2a6" stroke-width="1.6" stroke-linecap="round" fill="none"/>
<path d="M371.4 121.6h0M385.8 123.0h0M396.6 134.0h0M387.1 117.2h0M372.5 150.5h0M383.6 108.9h0" stroke="#a01a24" stroke-width="2.4" stroke-linecap="round" fill="none"/>
<path d="M422.3 171.6h0M389.5 152.4h0" stroke="#1a1212" stroke-width="3.2" stroke-linecap="round" fill="none"/>
<path d="M387.5 123.7h0M371.5 152.8h0M395.2 129.6h0M383.2 130.6h0M392.7 125.8h0M403.2 135.4h0M382.0 131.4h0M400.3 142.8h0M379.7 119.4h0M375.1 148.5h0M371.3 159.0h0M375.0 156.5h0M366.4 143.4h0M378.7 143.3h0M367.9 157.0h0M378.0 151.9h0" stroke="#b31a24" stroke-width="1.6" stroke-linecap="round" fill="none"/>
<path d="M381.8 164.6h0M373.8 133.1h0M385.4 131.0h0M397.7 151.7h0" stroke="#a01a24" stroke-width="2" stroke-linecap="round" fill="none"/>
<path d="M390.8 145.8h0M367.8 129.3h0M402.9 147.6h0M380.7 137.2h0M352.9 144.3h0M365.4 142.5h0M383.3 141.9h0M375.8 146.7h0M375.4 144.3h0M386.5 155.5h0M385.1 140.6h0M376.7 117.5h0M372.1 113.4h0M404.9 157.7h0M391.3 160.1h0M384.2 146.0h0M373.2 148.5h0M378.9 158.2h0M379.0 131.7h0M371.5 128.4h0M369.3 140.0h0" stroke="#b31a24" stroke-width="1.9" stroke-linecap="round" fill="none"/>
<path d="M444.2 166.3h0M404.8 180.3h0M323.8 120.1h0M490.4 84.2h0M324.9 111.2h0" stroke="#8a8a8a" stroke-width="1.2" stroke-linecap="round" fill="none"/>
<path d="M367.1 143.2h0M385.2 136.7h0M367.4 135.3h0M373.4 144.3h0M383.2 142.4h0M370.4 128.0h0M377.9 142.8h0M365.4 139.3h0M385.2 154.3h0" stroke="#1a1212" stroke-width="1.6" stroke-linecap="round" fill="none"/>
<path d="M362.7 175.8h0M511.5 138.7h0M407.4 69.9h0M417.5 130.6h0M391.8 106.2h0M363.8 184.5h0M482.3 90.8h0M389.2 174.1h0M426.2 163.7h0" stroke="#a01a24" stroke-width="2.2" stroke-linecap="round" fill="none"/>
<path d="M371.0 143.1h0M368.4 154.8h0M368.6 141.6h0M377.7 145.6h0M370.8 152.6h0M379.5 133.6h0M373.4 158.0h0M387.6 148.8h0M374.5 146.6h0M388.7 129.5h0M364.5 142.1h0M368.0 130.3h0M364.6 124.5h0M361.5 146.1h0M363.7 151.7h0M372.0 130.6h0M398.0 151.6h0" stroke="#1a1212" stroke-width="2.4" stroke-linecap="round" fill="none"/>
<path d="M401.1 139.0h0M390.7 137.0h0" stroke="#a01a24" stroke-width="2.7" stroke-linecap="round" fill="none"/>
<path d="M378.4 146.1h0M384.4 141.2h0M371.7 138.0h0M363.9 139.3h0M364.3 129.9h0M375.7 142.0h0M376.2 136.8h0M373.2 141.6h0M376.3 140.1h0M366.3 144.0h0M380.1 144.8h0M376.2 147.9h0M367.8 144.9h0M373.2 155.2h0M370.6 146.7h0M370.9 150.1h0M360.2 141.6h0" stroke="#4fa2a6" stroke-width="1.9" stroke-linecap="round" fill="none"/>
<path d="M445.7 128.1h0M428.4 156.6h0M348.6 185.2h0M416.4 87.0h0" stroke="#3a3a3a" stroke-width="1.2" stroke-linecap="round" fill="none"/>
<path d="M403.5 158.0h0" stroke="#1a1212" stroke-width="2" stroke-linecap="round" fill="none"/>
<path d="M300.5 95.0h0M403.7 90.3h0M346.0 97.9h0" stroke="#c8c8c8" stroke-width="1.2" stroke-linecap="round" fill="none"/>
<path d="M382.6 145.6h0M369.0 140.3h0M370.1 142.0h0M367.9 137.2h0M378.6 136.2h0M365.3 154.0h0M363.5 139.2h0M379.3 134.8h0M372.0 139.9h0M371.6 136.6h0M367.3 146.6h0M360.4 152.7h0M371.0 153.4h0M373.8 163.0h0M373.3 133.8h0M371.1 132.6h0M380.4 141.9h0" stroke="#b31a24" stroke-width="2.4" stroke-linecap="round" fill="none"/>
<path d="M390.2 121.9h0" stroke="#1a1212" stroke-width="2.7" stroke-linecap="round" fill="none"/>
<path d="M372.0 142.5h0M389.7 158.5h0M425.5 154.8h0M400.6 136.5h0M406.3 96.0h0M415.2 138.7h0M390.8 130.1h0M385.8 133.0h0M446.9 159.5h0M390.0 158.7h0" stroke="#a01a24" stroke-width="3.2" stroke-linecap="round" fill="none"/>
<path d="M362.1 146.3h0M363.4 144.5h0M375.6 147.6h0M366.3 147.4h0M354.2 164.3h0M361.9 139.3h0M358.9 154.6h0M395.9 166.1h0M385.3 144.9h0M355.9 148.5h0M362.0 143.2h0M354.1 144.0h0M378.7 147.1h0M379.1 143.5h0M371.0 142.4h0M395.1 137.9h0M364.3 155.9h0" stroke="#1a1212" stroke-width="1.9" stroke-linecap="round" fill="none"/>
<path d="M373.3 127.4h0M413.4 132.7h0M394.4 142.4h0M413.8 119.0h0" stroke="#a01a24" stroke-width="2" stroke-linecap="round" fill="none"/>
<path d="M395.0 73.1h0M412.4 84.7h0" stroke="#c8c8c8" stroke-width="1.2" stroke-linecap="round" fill="none"/>
<path d="M388.4 181.8h0M353.0 167.7h0M376.0 189.7h0M417.1 87.2h0" stroke="#3a3a3a" stroke-width="1.2" stroke-linecap="round" fill="none"/>
<path d="M368.9 136.1h0M372.5 145.6h0M378.4 143.9h0M365.7 144.7h0M367.8 143.6h0M380.2 150.1h0" stroke="#4fa2a6" stroke-width="1.9" stroke-linecap="round" fill="none"/>
<path d="M395.0 125.2h0M434.5 83.2h0M435.3 132.8h0M415.2 149.7h0M419.8 165.8h0M404.9 116.9h0M401.1 96.8h0M398.6 145.7h0M367.7 132.8h0M379.3 143.7h0" stroke="#a01a24" stroke-width="3.2" stroke-linecap="round" fill="none"/>
<path d="M412.5 137.7h0" stroke="#1a1212" stroke-width="2.7" stroke-linecap="round" fill="none"/>
<path d="M372.1 144.0h0M307.6 176.8h0M366.9 135.6h0M371.6 155.6h0M358.3 155.0h0M375.0 144.1h0M379.2 124.4h0M375.7 160.3h0M376.4 146.4h0M415.8 104.0h0M364.9 125.3h0M371.7 148.9h0M360.3 140.2h0M347.6 139.2h0M364.4 152.7h0M387.7 152.9h0M346.6 167.2h0M379.9 157.8h0M366.3 143.1h0M363.2 141.6h0M376.4 151.2h0M372.5 125.8h0M371.9 148.5h0M378.6 161.5h0M360.2 133.8h0M364.7 137.3h0" stroke="#1a1212" stroke-width="2.2" stroke-linecap="round" fill="none"/>
<path d="M373.9 162.6h0M368.8 125.3h0M378.1 138.3h0M371.1 152.5h0M379.3 160.9h0M372.9 155.5h0M369.9 149.5h0M394.9 141.0h0M385.9 144.0h0M361.1 152.0h0M378.3 153.3h0M371.9 142.9h0M375.9 144.0h0M390.8 124.1h0M370.1 138.2h0M371.8 131.6h0M386.9 136.0h0M374.9 146.7h0M359.1 143.0h0M375.3 146.4h0" stroke="#b31a24" stroke-width="1.6" stroke-linecap="round" fill="none"/>
<path d="M407.9 122.7h0M391.1 106.2h0M399.6 178.1h0" stroke="#1a1212" stroke-width="3.2" stroke-linecap="round" fill="none"/>
<path d="M372.0 133.0h0M390.5 147.1h0M362.8 139.7h0M384.2 132.7h0M381.8 139.9h0M383.2 148.6h0M381.2 139.9h0M385.2 128.4h0M386.9 123.1h0M376.5 131.4h0M365.1 140.0h0M383.0 127.7h0M388.2 150.7h0M353.2 147.7h0M377.2 133.1h0M366.8 150.0h0" stroke="#b31a24" stroke-width="2.2" stroke-linecap="round" fill="none"/>
<path d="M390.4 146.6h0M391.8 151.9h0M382.4 145.4h0M362.7 131.8h0M368.6 150.6h0M388.2 140.3h0M385.0 140.2h0M372.3 141.1h0M363.9 130.5h0M395.8 131.1h0M397.6 146.6h0M393.2 164.0h0M365.6 140.9h0M372.7 138.9h0M375.6 139.6h0M376.1 144.2h0M377.0 125.5h0M356.0 141.6h0M404.3 139.7h0M379.9 142.8h0M376.3 139.6h0M373.5 142.0h0" stroke="#b31a24" stroke-width="1.9" stroke-linecap="round" fill="none"/>
<path d="M371.5 148.4h0M377.2 139.8h0M374.1 140.5h0M331.4 147.3h0M375.1 154.5h0M378.5 140.3h0M409.6 105.6h0M349.8 190.2h0M369.1 143.1h0M377.7 147.2h0" stroke="#4fa2a6" stroke-width="2.2" stroke-linecap="round" fill="none"/>
<path d="M379.3 140.7h0M381.9 157.7h0M362.1 149.3h0M379.8 157.3h0M388.3 136.5h0M353.4 144.0h0M358.0 142.9h0M363.3 141.5h0M361.5 133.4h0M363.5 143.0h0M363.3 122.9h0M363.9 146.5h0M378.5 142.0h0M373.7 141.8h0M383.9 137.1h0M376.5 144.4h0M368.2 164.3h0" stroke="#1a1212" stroke-width="1.9" stroke-linecap="round" fill="none"/>
<path d="M334.8 62.7h0M366.2 83.4h0M327.9 97.4h0" stroke="#8a8a8a" stroke-width="1.2" stroke-linecap="round" fill="none"/>
<path d="M377.3 146.5h0M367.3 150.7h0M365.1 149.7h0M361.4 132.8h0M354.4 147.2h0M357.6 144.4h0M375.1 138.9h0M376.8 135.5h0M392.2 149.8h0M373.1 148.4h0M371.7 138.0h0M353.4 140.5h0M374.0 144.2h0M380.1 143.6h0M375.8 147.0h0M360.0 138.7h0M373.8 121.1h0" stroke="#1a1212" stroke-width="2.4" stroke-linecap="round" fill="none"/>
<path d="M374.0 144.1h0M346.6 149.3h0M372.2 137.0h0M374.6 145.6h0M367.0 147.0h0M358.0 124.2h0M373.5 120.8h0M366.1 156.5h0M374.2 150.2h0M362.4 134.0h0M364.8 133.0h0M362.7 126.6h0M352.2 151.1h0M379.7 141.0h0M382.0 134.3h0M369.9 133.6h0M385.4 143.1h0" stroke="#1a1212" stroke-width="1.6" stroke-linecap="round" fill="none"/>
<path d="M410.4 143.5h0M389.3 158.4h0M410.0 149.8h0M391.1 146.8h0" stroke="#a01a24" stroke-width="2.4" stroke-linecap="round" fill="none"/>
<path d="M425.5 147.8h0M444.0 143.1h0M353.3 174.8h0M410.5 198.5h0M361.5 174.7h0M422.3 110.4h0M419.8 132.3h0M416.1 104.2h0M442.3 140.3h0" stroke="#a01a24" stroke-width="2.2" stroke-linecap="round" fill="none"/>
<path d="M396.0 132.8h0" stroke="#1a1212" stroke-width="2" stroke-linecap="round" fill="none"/>
<path d="M380.6 147.9h0M383.7 143.5h0M371.3 147.3h0M365.2 146.4h0M367.3 153.2h0M371.4 141.2h0M367.6 147.7h0" stroke="#4fa2a6" stroke-width="1.6" stroke-linecap="round" fill="none"/>
<path d="M367.8 132.2h0M379.1 135.7h0M373.0 141.1h0M381.5 159.5h0M392.1 132.5h0M375.7 136.3h0M378.8 147.8h0M371.8 147.4h0M391.4 130.0h0M366.7 143.3h0M380.7 139.1h0M369.2 151.5h0M366.1 120.2h0M361.4 149.6h0M386.9 133.8h0M370.1 120.7h0M381.1 148.8h0M361.6 135.6h0M382.0 143.6h0" stroke="#b31a24" stroke-width="2.4" stroke-linecap="round" fill="none"/>
<path d="M370.9 138.6h0M378.3 139.2h0M370.8 138.3h0M361.7 150.9h0M378.4 142.2h0M388.1 135.2h0M375.6 147.9h0M374.1 147.8h0M388.4 145.8h0M353.5 142.9h0M367.2 145.4h0M351.5 136.1h0M359.6 139.4h0M375.5 135.6h0M385.1 133.0h0M394.5 137.7h0M385.2 141.9h0" stroke="#b31a24" stroke-width="1.6" stroke-linecap="round" fill="none"/>
<path d="M361.0 61.2h0M434.8 89.9h0M381.2 87.2h0M429.0 39.4h0M429.0 83.4h0M350.0 68.5h0" stroke="#c8c8c8" stroke-width="1.2" stroke-linecap="round" fill="none"/>
<path d="M360.3 183.8h0M496.2 126.4h0M435.7 167.8h0M358.8 177.5h0M345.1 182.2h0M390.7 93.1h0M392.7 111.0h0" stroke="#a01a24" stroke-width="2.2" stroke-linecap="round" fill="none"/>
<path d="M378.6 134.8h0M366.2 138.8h0M373.4 151.2h0M375.4 134.6h0M379.2 154.7h0M377.4 150.3h0M367.8 149.4h0M355.0 137.9h0M363.1 144.4h0M384.2 137.5h0M366.5 140.7h0M366.8 146.8h0M391.7 155.4h0M380.3 135.1h0" stroke="#1a1212" stroke-width="1.9" stroke-linecap="round" fill="none"/>
<path d="M379.1 151.8h0M369.8 145.4h0M375.8 156.3h0M358.8 141.2h0M363.3 136.3h0M373.6 149.6h0M364.0 142.2h0M351.6 147.6h0M372.4 142.6h0M365.2 146.7h0M386.6 161.7h0M359.2 134.9h0M368.4 137.5h0M374.3 140.7h0M380.1 121.6h0" stroke="#1a1212" stroke-width="1.6" stroke-linecap="round" fill="none"/>
<path d="M392.6 164.0h0M405.7 119.1h0M359.5 140.3h0M397.4 121.2h0" stroke="#1a1212" stroke-width="2" stroke-linecap="round" fill="none"/>
<path d="M370.7 150.6h0M366.8 142.2h0M363.5 151.9h0M376.1 143.0h0M378.4 143.6h0M370.4 147.9h0M370.5 147.6h0M361.0 135.8h0M369.7 151.6h0M372.0 139.5h0M367.3 146.2h0M368.3 142.7h0" stroke="#4fa2a6" stroke-width="2.2" stroke-linecap="round" fill="none"/>
<path d="M379.7 66.5h0M375.3 184.5h0M348.3 77.4h0M369.5 21.5h0M339.9 50.2h0M429.6 149.1h0M343.5 64.2h0" stroke="#3a3a3a" stroke-width="1.2" stroke-linecap="round" fill="none"/>
<path d="M376.1 146.4h0M383.7 156.0h0M388.1 145.9h0M366.3 137.1h0M377.5 136.7h0M397.2 134.8h0M371.3 151.3h0M379.9 135.7h0M376.1 137.5h0M373.8 134.2h0M373.6 130.2h0M387.2 155.4h0M374.4 135.8h0" stroke="#b31a24" stroke-width="2.2" stroke-linecap="round" fill="none"/>
<path d="M444.2 102.6h0" stroke="#4fa2a6" stroke-width="3.2" stroke-linecap="round" fill="none"/>
<path d="M391.2 140.6h0M375.7 117.8h0M392.7 116.7h0M371.6 164.7h0M380.3 150.0h0" stroke="#a01a24" stroke-width="2.4" stroke-linecap="round" fill="none"/>
<path d="M374.7 146.4h0M369.2 155.3h0M372.9 147.5h0M374.5 136.1h0" stroke="#4fa2a6" stroke-width="1.9" stroke-linecap="round" fill="none"/>
<path d="M342.0 99.7h0M369.1 60.8h0M336.8 108.5h0" stroke="#8a8a8a" stroke-width="1.2" stroke-linecap="round" fill="none"/>
<path d="M394.7 132.7h0M379.0 153.8h0M368.2 145.3h0M378.1 139.7h0M381.1 136.3h0M355.7 150.3h0M388.8 138.5h0M370.7 141.8h0M375.2 147.6h0M378.5 142.4h0M369.6 139.2h0M356.4 146.9h0M366.1 137.7h0M376.9 117.8h0M384.3 144.4h0M368.5 140.4h0M374.9 143.4h0M379.0 139.5h0M387.6 153.9h0M389.9 142.4h0M383.2 139.7h0M363.8 144.1h0M377.2 145.5h0" stroke="#b31a24" stroke-width="1.9" stroke-linecap="round" fill="none"/>
<path d="M381.6 150.0h0M378.3 138.8h0M368.4 132.8h0M371.9 141.2h0M375.0 144.5h0M364.1 149.3h0M367.0 139.5h0M375.6 150.0h0M376.6 143.6h0M376.3 142.7h0" stroke="#4fa2a6" stroke-width="1.6" stroke-linecap="round" fill="none"/>
<path d="M405.9 136.1h0M401.6 115.6h0M394.1 146.6h0M389.2 162.9h0M408.3 157.0h0" stroke="#a01a24" stroke-width="2" stroke-linecap="round" fill="none"/>
<path d="M395.5 138.3h0M409.5 126.9h0" stroke="#a01a24" stroke-width="2.7" stroke-linecap="round" fill="none"/>
<path d="M369.6 134.8h0M386.1 127.9h0M366.4 136.5h0M367.8 140.9h0M369.9 147.3h0M371.8 119.1h0M381.8 135.3h0M378.9 157.5h0M391.5 126.0h0M385.4 145.9h0M374.1 143.2h0M372.9 167.0h0M387.9 140.4h0M386.9 134.4h0M371.7 122.4h0M358.7 143.5h0M379.3 147.6h0" stroke="#b31a24" stroke-width="2.4" stroke-linecap="round" fill="none"/>
<path d="M387.3 145.5h0M335.7 160.3h0M395.1 138.6h0" stroke="#1a1212" stroke-width="3.2" stroke-linecap="round" fill="none"/>
<path d="M438.2 133.8h0M388.0 125.9h0M393.7 117.7h0M388.9 148.8h0M415.2 151.3h0M436.5 130.0h0M425.5 156.8h0M422.7 160.0h0M378.8 135.2h0" stroke="#a01a24" stroke-width="3.2" stroke-linecap="round" fill="none"/>
<path d="M371.5 137.8h0M394.6 156.8h0M369.0 147.7h0M365.7 139.2h0M362.9 147.1h0M387.0 160.5h0M369.8 153.2h0M367.0 144.0h0M372.9 142.9h0M346.3 136.1h0M368.1 152.3h0M369.8 141.7h0M362.1 141.5h0M382.1 144.4h0M380.2 148.6h0M368.0 141.7h0M351.0 104.2h0M385.1 152.7h0M370.2 143.7h0M364.5 149.4h0M307.6 180.5h0M377.9 159.9h0" stroke="#1a1212" stroke-width="2.2" stroke-linecap="round" fill="none"/>
<path d="M357.3 145.4h0M378.8 143.1h0M391.7 154.1h0M364.4 144.0h0M378.7 133.3h0M396.7 138.8h0M379.3 154.0h0M380.8 165.7h0M377.9 144.8h0M368.2 141.4h0M389.2 145.9h0M372.1 142.0h0M362.4 146.3h0M373.6 137.0h0M362.3 148.4h0M361.7 153.9h0M363.6 149.5h0M369.9 146.2h0" stroke="#1a1212" stroke-width="2.4" stroke-linecap="round" fill="none"/>
<path d="M345.7 137.5h0M399.9 136.9h0M364.3 138.0h0M371.7 148.2h0M373.3 155.5h0M381.3 136.4h0M366.4 124.4h0M357.0 134.1h0M386.2 146.6h0M363.5 153.7h0M373.2 127.0h0M380.4 136.7h0M371.9 135.3h0" stroke="#1a1212" stroke-width="2.4" stroke-linecap="round" fill="none"/>
<path d="M356.1 132.9h0M360.8 147.8h0M361.3 125.1h0M372.8 143.0h0M373.9 142.5h0M372.5 140.1h0M364.8 147.1h0M374.9 151.3h0M363.4 137.4h0M369.8 147.2h0M372.2 151.3h0M359.1 135.3h0M381.6 131.0h0M379.7 138.9h0M370.0 137.4h0M345.3 141.3h0M383.3 144.4h0M344.8 151.4h0" stroke="#1a1212" stroke-width="1.6" stroke-linecap="round" fill="none"/>
<path d="M331.8 96.5h0M431.3 123.9h0" stroke="#8a8a8a" stroke-width="1.2" stroke-linecap="round" fill="none"/>
<path d="M391.5 156.8h0M382.8 120.6h0M406.4 132.2h0" stroke="#a01a24" stroke-width="2.4" stroke-linecap="round" fill="none"/>
<path d="M335.0 123.1h0M447.5 93.1h0M419.6 188.5h0" stroke="#c8c8c8" stroke-width="1.2" stroke-linecap="round" fill="none"/>
<path d="M381.2 148.7h0M369.4 115.8h0M385.8 129.7h0M362.1 127.0h0M392.2 134.3h0M360.1 145.0h0M375.9 138.9h0M378.2 142.2h0M360.2 144.2h0M383.6 161.8h0M365.5 142.5h0M344.6 134.9h0M387.6 146.4h0M369.1 149.8h0M360.1 140.5h0M370.7 139.5h0M368.8 133.8h0M383.5 138.5h0M375.9 135.8h0M392.3 150.7h0M371.9 144.3h0M390.9 138.9h0M378.3 156.0h0M356.9 142.9h0" stroke="#b31a24" stroke-width="2.4" stroke-linecap="round" fill="none"/>
<path d="M406.3 140.2h0M398.0 135.7h0M374.3 124.6h0M374.0 143.5h0M392.3 133.0h0M370.0 128.5h0M386.5 142.1h0M388.8 126.6h0M368.3 134.4h0M373.9 149.3h0M374.9 133.5h0M361.2 135.3h0M398.2 145.6h0M376.3 146.4h0" stroke="#b31a24" stroke-width="1.9" stroke-linecap="round" fill="none"/>
<path d="M376.0 151.1h0M357.6 148.1h0M370.6 145.8h0M372.8 135.4h0M380.7 147.6h0M367.9 137.3h0M382.6 143.5h0M377.2 146.8h0M362.8 140.7h0" stroke="#4fa2a6" stroke-width="1.6" stroke-linecap="round" fill="none"/>
<path d="M403.7 116.3h0M376.7 142.8h0M415.2 140.3h0M388.6 132.0h0M385.8 134.7h0M417.5 124.2h0M397.2 133.4h0M403.4 115.5h0M450.1 131.0h0M387.3 134.0h0M399.8 126.4h0M431.3 168.1h0" stroke="#a01a24" stroke-width="3.2" stroke-linecap="round" fill="none"/>
<path d="M353.7 155.7h0M374.2 130.9h0" stroke="#1a1212" stroke-width="2" stroke-linecap="round" fill="none"/>
<path d="M386.9 133.3h0M369.6 132.2h0M357.0 158.1h0M392.7 144.6h0M387.4 127.7h0M385.8 132.3h0M374.9 144.8h0M369.6 142.0h0M392.4 138.7h0M368.8 133.4h0M355.7 157.9h0M386.6 144.7h0M355.6 147.2h0M381.8 141.3h0M360.3 144.2h0M393.9 137.8h0M396.7 146.9h0M384.5 163.8h0M360.8 125.7h0" stroke="#b31a24" stroke-width="1.6" stroke-linecap="round" fill="none"/>
<path d="M376.4 125.1h0M378.5 174.0h0M404.3 124.6h0" stroke="#a01a24" stroke-width="2.7" stroke-linecap="round" fill="none"/>
<path d="M373.4 143.6h0M384.6 151.5h0M378.1 159.0h0M364.2 142.3h0M375.9 137.4h0M389.3 140.4h0M366.4 133.2h0M385.9 135.3h0M382.7 131.2h0M367.7 148.4h0M372.8 153.1h0M376.5 151.3h0M380.3 145.2h0M372.6 135.1h0" stroke="#1a1212" stroke-width="1.9" stroke-linecap="round" fill="none"/>
<path d="M390.3 142.5h0M370.5 125.3h0M381.6 132.2h0M367.9 146.7h0M371.3 145.8h0M383.9 129.9h0M391.7 143.0h0M389.8 155.2h0M369.9 136.0h0M369.9 151.9h0M368.2 114.1h0M355.7 122.2h0M369.4 141.6h0M375.1 138.1h0M379.9 149.4h0M370.1 141.5h0M375.4 148.5h0M367.6 141.5h0M365.1 146.1h0M362.4 147.3h0" stroke="#b31a24" stroke-width="2.2" stroke-linecap="round" fill="none"/>
<path d="M421.5 132.8h0M355.3 171.6h0" stroke="#a01a24" stroke-width="2.2" stroke-linecap="round" fill="none"/>
<path d="M382.2 145.7h0M347.8 116.4h0M367.9 147.3h0M411.6 105.6h0M373.8 137.0h0M371.9 153.7h0M369.4 151.9h0M375.7 140.4h0M371.2 148.4h0M380.2 143.2h0" stroke="#4fa2a6" stroke-width="2.2" stroke-linecap="round" fill="none"/>
<path d="M383.1 142.5h0M378.7 140.3h0M369.1 145.0h0M380.7 142.4h0M366.7 147.5h0M362.4 145.0h0M368.2 137.2h0M373.0 146.7h0" stroke="#4fa2a6" stroke-width="1.9" stroke-linecap="round" fill="none"/>
<path d="M375.3 136.2h0M415.7 118.5h0M364.4 136.3h0M354.6 143.7h0M440.0 101.5h0M381.1 134.9h0M369.9 160.4h0M368.5 154.8h0M368.6 140.9h0M343.2 167.2h0M369.0 141.1h0M372.7 138.3h0M355.8 154.5h0M382.4 142.1h0M338.3 117.0h0M393.7 145.5h0M379.9 140.5h0M386.1 145.6h0M363.5 138.4h0M379.0 147.6h0M373.0 143.0h0M367.6 142.2h0M357.9 163.4h0M382.1 137.9h0M372.0 149.5h0M363.6 132.5h0M341.4 124.2h0M374.5 150.1h0" stroke="#1a1212" stroke-width="2.2" stroke-linecap="round" fill="none"/>
<path d="M367.9 124.9h0M398.0 154.7h0M411.5 129.9h0M402.2 122.7h0M383.8 147.9h0M386.5 136.0h0" stroke="#a01a24" stroke-width="2" stroke-linecap="round" fill="none"/>
<path d="M451.8 57.8h0M366.1 201.8h0M321.2 151.3h0M401.4 82.7h0" stroke="#3a3a3a" stroke-width="1.2" stroke-linecap="round" fill="none"/>
<path d="M386.2 126.7h0" stroke="#1a1212" stroke-width="2.7" stroke-linecap="round" fill="none"/>
<path d="M400.0 136.5h0M336.5 192.3h0M381.2 139.5h0" stroke="#1a1212" stroke-width="3.2" stroke-linecap="round" fill="none"/>
<path d="M366.9 139.2h0M385.1 144.2h0M362.7 145.5h0M366.2 140.6h0M366.6 141.7h0" stroke="#4fa2a6" stroke-width="1.6" stroke-linecap="round" fill="none"/>
<path d="M364.8 145.6h0M367.0 145.3h0" stroke="#4fa2a6" stroke-width="1.9" stroke-linecap="round" fill="none"/>
<path d="M369.9 134.8h0M372.6 138.3h0" stroke="#4fa2a6" stroke-width="1.9" stroke-linecap="round" fill="none"/>
<path d="M370.9 143.8h0M376.3 141.7h0M371.6 152.1h0M365.8 138.3h0" stroke="#4fa2a6" stroke-width="1.6" stroke-linecap="round" fill="none"/>
<path d="M377.3 147.5h0M364.6 147.2h0" stroke="#4fa2a6" stroke-width="2.2" stroke-linecap="round" fill="none"/>
<path d="M379.9 142.3h0M367.3 144.5h0" stroke="#4fa2a6" stroke-width="1.6" stroke-linecap="round" fill="none"/>
<path d="M377.8 144.5h0M385.1 148.5h0" stroke="#4fa2a6" stroke-width="1.9" stroke-linecap="round" fill="none"/>
<path d="M365.5 144.1h0M373.1 136.0h0M367.4 147.6h0" stroke="#4fa2a6" stroke-width="2.2" stroke-linecap="round" fill="none"/>
<path d="M363.0 147.1h0M371.8 137.0h0M376.1 146.2h0M378.0 139.5h0M365.6 149.0h0M379.2 148.8h0" stroke="#4fa2a6" stroke-width="1.6" stroke-linecap="round" fill="none"/>
<path d="M370.6 140.7h0" stroke="#4fa2a6" stroke-width="1.9" stroke-linecap="round" fill="none"/>
<path d="M371.9 138.4h0" stroke="#4fa2a6" stroke-width="2.2" stroke-linecap="round" fill="none"/>
<path d="M374.8 141.2h0M355.4 147.4h0M362.9 143.3h0M379.1 138.5h0M384.3 139.8h0" stroke="#4fa2a6" stroke-width="1.6" stroke-linecap="round" fill="none"/>
<path d="M362.6 147.6h0M366.1 134.9h0" stroke="#4fa2a6" stroke-width="2.2" stroke-linecap="round" fill="none"/>
<path d="M372.3 130.6h0" stroke="#4fa2a6" stroke-width="1.9" stroke-linecap="round" fill="none"/>
</g><g filter="url(#bl)">
<rect x="297.3" y="16.45" width="62.5" height="29.8" fill="#fff" stroke="#707070" stroke-width="1"/>
<circle cx="302.9" cy="24.45" r="1.3" fill="#8b1c2a"/>
<text x="308.9" y="26.75" font-size="6.4" text-anchor="start" fill="#111" stroke="#111" stroke-width="0.15">most enriched</text>
<circle cx="302.9" cy="32.15" r="1.3" fill="#1a1212"/>
<text x="308.9" y="34.45" font-size="6.4" text-anchor="start" fill="#111" stroke="#111" stroke-width="0.15">median enriched</text>
<circle cx="302.9" cy="39.45" r="1.3" fill="#a8cccc"/>
<text x="308.9" y="41.75" font-size="6.4" text-anchor="start" fill="#111" stroke="#111" stroke-width="0.15">least enriched</text>
<rect x="459.8" y="184.15" width="58.7" height="30.3" fill="#fff" stroke="#707070" stroke-width="1"/>
<circle cx="465.5" cy="192.15" r="1.7" fill="#111"/>
<text x="471.4" y="194.45" font-size="6.4" text-anchor="start" fill="#111" stroke="#111" stroke-width="0.15">p−value &lt; 1e−6</text>
<circle cx="465.5" cy="199.65" r="1.15" fill="#111"/>
<text x="471.4" y="201.95" font-size="6.4" text-anchor="start" fill="#111" stroke="#111" stroke-width="0.15">p−value = 1e−4</text>
<circle cx="465.5" cy="207.15" r="0.55" fill="#111"/>
<text x="471.4" y="209.45" font-size="6.4" text-anchor="start" fill="#111" stroke="#111" stroke-width="0.15">p−value &gt; 0.01</text>
<rect x="297.3" y="16.45" width="221.2" height="198" fill="none" stroke="#666" stroke-width="1.1"/>
<line x1="318.5" y1="214.45" x2="318.5" y2="218.25" stroke="#666" stroke-width="1"/>
<text x="318.5" y="228.55" font-size="6.5" text-anchor="middle" fill="#111" stroke="#111" stroke-width="0.15">-2</text>
<line x1="373.4" y1="214.45" x2="373.4" y2="218.25" stroke="#666" stroke-width="1"/>
<text x="373.4" y="228.55" font-size="6.5" text-anchor="middle" fill="#111" stroke="#111" stroke-width="0.15">0</text>
<line x1="428.3" y1="214.45" x2="428.3" y2="218.25" stroke="#666" stroke-width="1"/>
<text x="428.3" y="228.55" font-size="6.5" text-anchor="middle" fill="#111" stroke="#111" stroke-width="0.15">2</text>
<line x1="483.2" y1="214.45" x2="483.2" y2="218.25" stroke="#666" stroke-width="1"/>
<text x="483.2" y="228.55" font-size="6.5" text-anchor="middle" fill="#111" stroke="#111" stroke-width="0.15">4</text>
<line x1="297.3" y1="195.25" x2="293.5" y2="195.25" stroke="#666" stroke-width="1"/>
<text x="288" y="195.25" font-size="6.5" text-anchor="middle" fill="#111" stroke="#111" stroke-width="0.15" transform="rotate(-90 288 195.25)">-2</text>
<line x1="297.3" y1="146.25" x2="293.5" y2="146.25" stroke="#666" stroke-width="1"/>
<text x="288" y="146.25" font-size="6.5" text-anchor="middle" fill="#111" stroke="#111" stroke-width="0.15" transform="rotate(-90 288 146.25)">0</text>
<line x1="297.3" y1="97.25" x2="293.5" y2="97.25" stroke="#666" stroke-width="1"/>
<text x="288" y="97.25" font-size="6.5" text-anchor="middle" fill="#111" stroke="#111" stroke-width="0.15" transform="rotate(-90 288 97.25)">2</text>
<line x1="297.3" y1="48.25" x2="293.5" y2="48.25" stroke="#666" stroke-width="1"/>
<text x="288" y="48.25" font-size="6.5" text-anchor="middle" fill="#111" stroke="#111" stroke-width="0.15" transform="rotate(-90 288 48.25)">4</text>
<text x="331.3" y="9.7" font-size="12.1" text-anchor="start" fill="#111" stroke="#111" stroke-width="0.15">H3K27me3 fetal HSPCs</text>
<text x="393.7" y="243.25" font-size="10" text-anchor="middle" fill="#111" stroke="#111" stroke-width="0.15">Suz12 - NS (LFC)</text>
<text x="274.2" y="116.15" font-size="10" text-anchor="middle" fill="#111" stroke="#111" stroke-width="0.15" transform="rotate(-90 274.2 116.15)">Jarid2 - NS (LFC)</text>
<rect x="39.6" y="277.5" width="117.1" height="191.2" fill="none" stroke="#7a7a7a" stroke-width="1.1"/>
<line x1="39.6" y1="302.3" x2="36.4" y2="302.3" stroke="#7a7a7a" stroke-width="1"/>
<text x="31.8" y="302.3" font-size="6.3" text-anchor="middle" fill="#111" stroke="#111" stroke-width="0.15" transform="rotate(-90 31.8 302.3)">2</text>
<line x1="39.6" y1="337.4" x2="36.4" y2="337.4" stroke="#7a7a7a" stroke-width="1"/>
<text x="31.8" y="337.4" font-size="6.3" text-anchor="middle" fill="#111" stroke="#111" stroke-width="0.15" transform="rotate(-90 31.8 337.4)">1</text>
<line x1="39.6" y1="373" x2="36.4" y2="373" stroke="#7a7a7a" stroke-width="1"/>
<text x="31.8" y="373" font-size="6.3" text-anchor="middle" fill="#111" stroke="#111" stroke-width="0.15" transform="rotate(-90 31.8 373)">0</text>
<line x1="39.6" y1="408.3" x2="36.4" y2="408.3" stroke="#7a7a7a" stroke-width="1"/>
<text x="31.8" y="408.3" font-size="6.3" text-anchor="middle" fill="#111" stroke="#111" stroke-width="0.15" transform="rotate(-90 31.8 408.3)">-1</text>
<line x1="39.6" y1="443.8" x2="36.4" y2="443.8" stroke="#7a7a7a" stroke-width="1"/>
<text x="31.8" y="443.8" font-size="6.3" text-anchor="middle" fill="#111" stroke="#111" stroke-width="0.15" transform="rotate(-90 31.8 443.8)">-2</text>
<line x1="71.3" y1="468.7" x2="71.3" y2="471.9" stroke="#7a7a7a" stroke-width="1"/>
<line x1="125.4" y1="468.7" x2="125.4" y2="471.9" stroke="#7a7a7a" stroke-width="1"/>
<text x="56.9" y="481.5" font-size="8.8" text-anchor="start" fill="#111" stroke="#111" stroke-width="0.15">non DE</text>
<text x="110" y="481.5" font-size="8.8" text-anchor="start" fill="#111" stroke="#111" stroke-width="0.15">Upregulated</text>
<text x="70.4" y="268.6" font-size="8.8" text-anchor="start" font-weight="bold" fill="#111" stroke="#111" stroke-width="0.3">Suz12 targets</text>
<text x="21.2" y="371.5" font-size="8.8" text-anchor="middle" fill="#111" stroke="#111" stroke-width="0.15" transform="rotate(-90 21.2 371.5)">H3K27me3 enrichment</text>
<line x1="71.3" y1="346" x2="71.3" y2="385.3" stroke="#5a5a5a" stroke-width="0.9" stroke-dasharray="1 1.4"/>
<line x1="71.3" y1="412.2" x2="71.3" y2="451.2" stroke="#5a5a5a" stroke-width="0.9" stroke-dasharray="1 1.4"/>
<line x1="60.2" y1="346" x2="82.3" y2="346" stroke="#7a7a7a" stroke-width="1"/>
<line x1="60.2" y1="451.2" x2="82.3" y2="451.2" stroke="#7a7a7a" stroke-width="1"/>
<rect x="49.5" y="385.3" width="43.2" height="26.9" fill="#bebebe" stroke="#777" stroke-width="1"/>
<line x1="49.5" y1="403.5" x2="92.7" y2="403.5" stroke="#1a1a1a" stroke-width="1.6"/>
<line x1="71.1" y1="278" x2="71.1" y2="346" stroke="#a6a6a6" stroke-width="2.1"/>
<circle cx="71.1" cy="455.8" r="0.95" fill="#8c8c8c"/>
<circle cx="71.1" cy="460.4" r="0.95" fill="#8c8c8c"/>
<circle cx="71.1" cy="465" r="0.95" fill="#8c8c8c"/>
<line x1="125.4" y1="304.2" x2="125.4" y2="354.9" stroke="#5a5a5a" stroke-width="0.9" stroke-dasharray="1 1.4"/>
<line x1="125.4" y1="393.1" x2="125.4" y2="431.2" stroke="#5a5a5a" stroke-width="0.9" stroke-dasharray="1 1.4"/>
<line x1="114" y1="304.2" x2="136.2" y2="304.2" stroke="#7a7a7a" stroke-width="1"/>
<line x1="114" y1="431.2" x2="136.2" y2="431.2" stroke="#7a7a7a" stroke-width="1"/>
<rect x="103.5" y="354.9" width="43.8" height="38.2" fill="#2e54a0" stroke="#1e3366" stroke-width="1"/>
<line x1="103.5" y1="373.8" x2="147.3" y2="373.8" stroke="#0f1f4d" stroke-width="1.6"/>
<line x1="125.4" y1="278" x2="125.4" y2="299" stroke="#1c3a7a" stroke-width="2.1" stroke-dasharray="2.8 1.2"/>
<text x="82.2" y="319.8" font-size="9.1" text-anchor="start" fill="#111" stroke="#111" stroke-width="0.15">p=1.5e-67</text>
<path d="M87.3 333.5 V326.5 H109.2 V333.5" fill="none" stroke="#555" stroke-width="1"/>
<rect x="211.8" y="277" width="118.6" height="194.2" fill="none" stroke="#7a7a7a" stroke-width="1.1"/>
<line x1="211.8" y1="302.6" x2="208.6" y2="302.6" stroke="#7a7a7a" stroke-width="1"/>
<text x="202.5" y="302.6" font-size="6.3" text-anchor="middle" fill="#111" stroke="#111" stroke-width="0.15" transform="rotate(-90 202.5 302.6)">2</text>
<line x1="211.8" y1="338.5" x2="208.6" y2="338.5" stroke="#7a7a7a" stroke-width="1"/>
<text x="202.5" y="338.5" font-size="6.3" text-anchor="middle" fill="#111" stroke="#111" stroke-width="0.15" transform="rotate(-90 202.5 338.5)">1</text>
<line x1="211.8" y1="374.3" x2="208.6" y2="374.3" stroke="#7a7a7a" stroke-width="1"/>
<text x="202.5" y="374.3" font-size="6.3" text-anchor="middle" fill="#111" stroke="#111" stroke-width="0.15" transform="rotate(-90 202.5 374.3)">0</text>
<line x1="211.8" y1="410" x2="208.6" y2="410" stroke="#7a7a7a" stroke-width="1"/>
<text x="202.5" y="410" font-size="6.3" text-anchor="middle" fill="#111" stroke="#111" stroke-width="0.15" transform="rotate(-90 202.5 410)">-1</text>
<line x1="211.8" y1="445.7" x2="208.6" y2="445.7" stroke="#7a7a7a" stroke-width="1"/>
<text x="202.5" y="445.7" font-size="6.3" text-anchor="middle" fill="#111" stroke="#111" stroke-width="0.15" transform="rotate(-90 202.5 445.7)">-2</text>
<line x1="243.3" y1="471.2" x2="243.3" y2="474.4" stroke="#7a7a7a" stroke-width="1"/>
<line x1="298.2" y1="471.2" x2="298.2" y2="474.4" stroke="#7a7a7a" stroke-width="1"/>
<text x="228.8" y="481.5" font-size="8.8" text-anchor="start" fill="#111" stroke="#111" stroke-width="0.15">non DE</text>
<text x="283.6" y="481.5" font-size="8.8" text-anchor="start" fill="#111" stroke="#111" stroke-width="0.15">Upregulated</text>
<text x="242" y="268" font-size="8.8" text-anchor="start" font-weight="bold" fill="#111" stroke="#111" stroke-width="0.3">Jarid2 targets</text>
<text x="191.8" y="373.8" font-size="8.8" text-anchor="middle" fill="#111" stroke="#111" stroke-width="0.15" transform="rotate(-90 191.8 373.8)">H3K27me3 enrichment</text>
<line x1="243.3" y1="348" x2="243.3" y2="387.7" stroke="#5a5a5a" stroke-width="0.9" stroke-dasharray="1 1.4"/>
<line x1="243.3" y1="414.2" x2="243.3" y2="453.9" stroke="#5a5a5a" stroke-width="0.9" stroke-dasharray="1 1.4"/>
<line x1="232.4" y1="348" x2="254.5" y2="348" stroke="#7a7a7a" stroke-width="1"/>
<line x1="232.4" y1="453.9" x2="254.5" y2="453.9" stroke="#7a7a7a" stroke-width="1"/>
<rect x="221.1" y="387.7" width="44.3" height="26.5" fill="#bebebe" stroke="#777" stroke-width="1"/>
<line x1="221.1" y1="405.5" x2="265.4" y2="405.5" stroke="#1a1a1a" stroke-width="1.6"/>
<line x1="243.5" y1="277.5" x2="243.5" y2="348" stroke="#a6a6a6" stroke-width="2.1"/>
<circle cx="243.1" cy="458.5" r="0.95" fill="#8c8c8c"/>
<circle cx="243.1" cy="462.9" r="0.95" fill="#8c8c8c"/>
<circle cx="243.1" cy="467.5" r="0.95" fill="#8c8c8c"/>
<line x1="298.2" y1="307.9" x2="298.2" y2="363" stroke="#5a5a5a" stroke-width="0.9" stroke-dasharray="1 1.4"/>
<line x1="298.2" y1="400.4" x2="298.2" y2="422.1" stroke="#5a5a5a" stroke-width="0.9" stroke-dasharray="1 1.4"/>
<line x1="287.6" y1="307.9" x2="309.2" y2="307.9" stroke="#7a7a7a" stroke-width="1"/>
<line x1="287.6" y1="422.1" x2="309.2" y2="422.1" stroke="#7a7a7a" stroke-width="1"/>
<rect x="276.5" y="363" width="43.8" height="37.4" fill="#ab5350" stroke="#5a2a28" stroke-width="1"/>
<line x1="276.5" y1="384.7" x2="320.3" y2="384.7" stroke="#4a1414" stroke-width="1.6"/>
<circle cx="298.1" cy="290.5" r="1.1" fill="#a04848"/>
<circle cx="298.1" cy="297.8" r="1.1" fill="#a04848"/>
<circle cx="298.1" cy="299.6" r="1.1" fill="#a04848"/>
<text x="251.2" y="327.5" font-size="9.1" text-anchor="start" fill="#111" stroke="#111" stroke-width="0.15">p=5.2e-17</text>
<path d="M259.6 345.7 V338.5 H282.2 V345.7" fill="none" stroke="#555" stroke-width="1"/>
</g>
</svg>
</body></html>
